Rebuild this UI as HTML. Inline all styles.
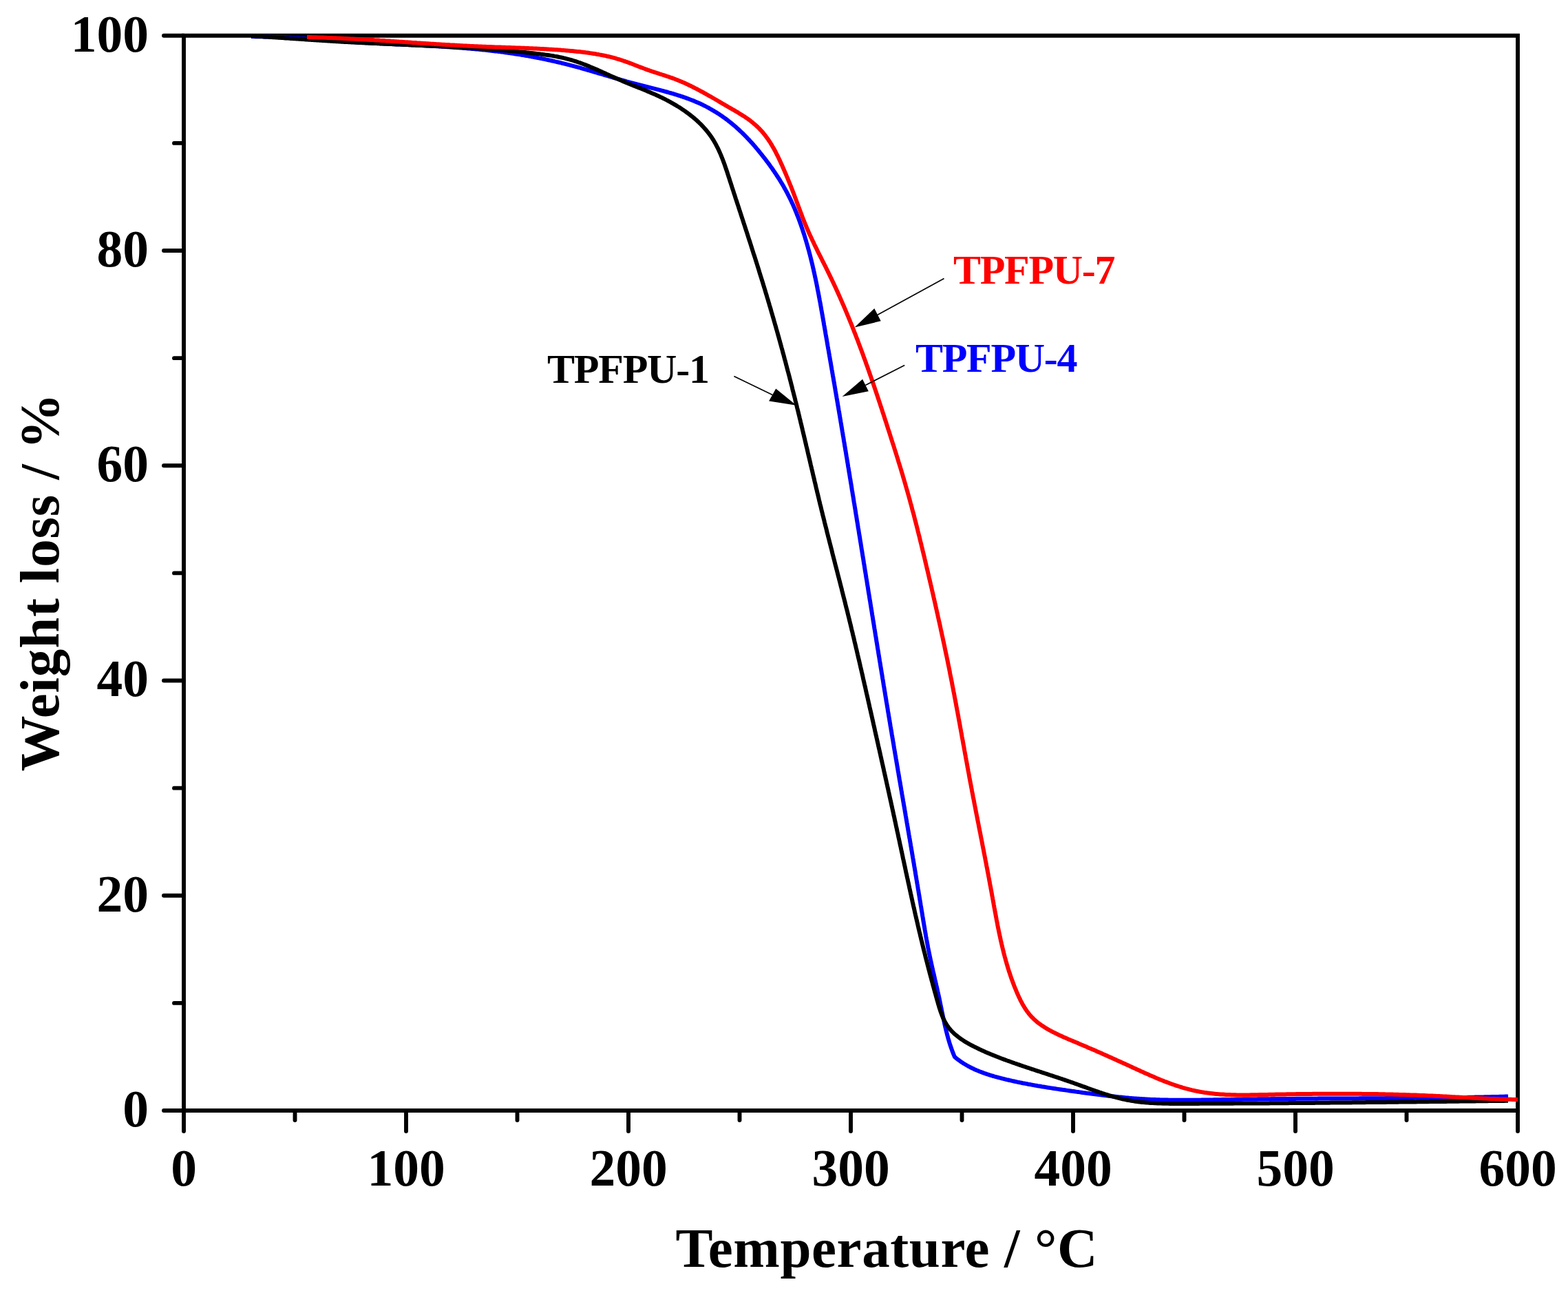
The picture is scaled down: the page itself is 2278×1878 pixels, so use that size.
<!DOCTYPE html><html><head><meta charset="utf-8"><title>TGA</title><style>html,body{margin:0;padding:0;background:#fff}svg{display:block}</style></head><body><svg width="2278" height="1878" viewBox="0 0 2278 1878">
<rect width="2278" height="1878" fill="#fff"/>
<g stroke="#000" stroke-width="5.9" fill="none" stroke-linecap="round">
<path d="M267.0,51.8 H2205.0 V1613.0 H267.0 Z" stroke-linecap="square" stroke-linejoin="miter"/>
<line x1="238.0" y1="1613.00" x2="267.0" y2="1613.00"/>
<line x1="253.0" y1="1456.88" x2="267.0" y2="1456.88"/>
<line x1="238.0" y1="1300.76" x2="267.0" y2="1300.76"/>
<line x1="253.0" y1="1144.64" x2="267.0" y2="1144.64"/>
<line x1="238.0" y1="988.52" x2="267.0" y2="988.52"/>
<line x1="253.0" y1="832.40" x2="267.0" y2="832.40"/>
<line x1="238.0" y1="676.28" x2="267.0" y2="676.28"/>
<line x1="253.0" y1="520.16" x2="267.0" y2="520.16"/>
<line x1="238.0" y1="364.04" x2="267.0" y2="364.04"/>
<line x1="253.0" y1="207.92" x2="267.0" y2="207.92"/>
<line x1="238.0" y1="51.80" x2="267.0" y2="51.80"/>
<line x1="267.00" y1="1613.0" x2="267.00" y2="1643.0"/>
<line x1="428.50" y1="1613.0" x2="428.50" y2="1627.0"/>
<line x1="590.00" y1="1613.0" x2="590.00" y2="1643.0"/>
<line x1="751.50" y1="1613.0" x2="751.50" y2="1627.0"/>
<line x1="913.00" y1="1613.0" x2="913.00" y2="1643.0"/>
<line x1="1074.50" y1="1613.0" x2="1074.50" y2="1627.0"/>
<line x1="1236.00" y1="1613.0" x2="1236.00" y2="1643.0"/>
<line x1="1397.50" y1="1613.0" x2="1397.50" y2="1627.0"/>
<line x1="1559.00" y1="1613.0" x2="1559.00" y2="1643.0"/>
<line x1="1720.50" y1="1613.0" x2="1720.50" y2="1627.0"/>
<line x1="1882.00" y1="1613.0" x2="1882.00" y2="1643.0"/>
<line x1="2043.50" y1="1613.0" x2="2043.50" y2="1627.0"/>
<line x1="2205.00" y1="1613.0" x2="2205.00" y2="1643.0"/>
</g>
<path d="M365.0,53.1 L367.0,53.1 L369.0,53.1 L371.0,53.2 L373.0,53.2 L375.0,53.2 L377.0,53.3 L379.0,53.3 L381.0,53.3 L383.0,53.4 L385.0,53.4 L387.0,53.5 L389.0,53.6 L391.0,53.6 L393.0,53.7 L395.0,53.8 L397.0,53.8 L399.0,53.9 L401.0,54.0 L402.9,54.1 L404.9,54.2 L406.9,54.2 L408.9,54.3 L410.9,54.4 L412.9,54.5 L414.9,54.6 L416.9,54.7 L418.9,54.8 L420.9,54.9 L422.9,55.1 L424.9,55.2 L426.9,55.3 L428.9,55.4 L430.9,55.5 L432.9,55.6 L434.9,55.8 L436.8,55.9 L438.8,56.0 L440.8,56.1 L442.8,56.3 L444.8,56.4 L446.8,56.5 L448.8,56.7 L450.8,56.8 L452.8,56.9 L454.8,57.1 L456.8,57.2 L458.8,57.3 L460.8,57.5 L462.7,57.6 L464.7,57.7 L466.7,57.9 L468.7,58.0 L470.7,58.2 L472.7,58.3 L474.7,58.4 L476.7,58.6 L478.7,58.7 L480.7,58.9 L482.7,59.0 L484.7,59.1 L486.7,59.3 L488.6,59.4 L490.6,59.6 L492.6,59.7 L494.6,59.8 L496.6,60.0 L498.6,60.1 L500.6,60.2 L502.6,60.4 L504.6,60.5 L506.6,60.6 L508.6,60.8 L510.6,60.9 L512.6,61.0 L514.6,61.2 L516.6,61.3 L518.5,61.4 L520.5,61.5 L522.5,61.6 L524.5,61.8 L526.5,61.9 L528.5,62.0 L530.5,62.1 L532.5,62.2 L534.5,62.3 L536.5,62.4 L538.5,62.5 L540.5,62.6 L542.5,62.7 L544.5,62.8 L546.5,62.9 L548.5,63.0 L550.5,63.1 L552.5,63.2 L554.5,63.3 L556.5,63.4 L558.4,63.5 L560.4,63.6 L562.4,63.7 L564.4,63.8 L566.4,63.9 L568.4,64.0 L570.4,64.1 L572.4,64.2 L574.4,64.3 L576.4,64.4 L578.4,64.5 L580.4,64.6 L582.4,64.6 L584.4,64.7 L586.4,64.8 L588.4,64.9 L590.4,65.0 L592.4,65.1 L594.4,65.2 L596.4,65.3 L598.4,65.4 L600.4,65.5 L602.4,65.6 L604.4,65.7 L606.3,65.8 L608.3,65.9 L610.3,66.0 L612.3,66.1 L614.3,66.2 L616.3,66.3 L618.3,66.4 L620.3,66.5 L622.3,66.6 L624.3,66.7 L626.3,66.8 L628.3,66.9 L630.3,67.0 L632.3,67.1 L634.3,67.2 L636.3,67.3 L638.3,67.5 L640.3,67.6 L642.3,67.7 L644.2,67.8 L646.2,67.9 L648.2,68.1 L650.2,68.2 L652.2,68.3 L654.2,68.5 L656.2,68.6 L658.2,68.7 L660.2,68.9 L662.2,69.0 L664.2,69.2 L666.2,69.3 L668.2,69.4 L670.1,69.6 L672.1,69.8 L674.1,69.9 L676.1,70.1 L678.1,70.2 L680.1,70.4 L682.1,70.6 L684.1,70.7 L686.1,70.9 L688.1,71.1 L690.0,71.3 L692.0,71.5 L694.0,71.6 L696.0,71.8 L698.0,72.0 L700.0,72.2 L702.0,72.4 L704.0,72.6 L705.9,72.8 L707.9,73.0 L709.9,73.3 L711.9,73.5 L713.9,73.7 L715.9,73.9 L717.9,74.2 L719.8,74.4 L721.8,74.6 L723.8,74.9 L725.8,75.1 L727.8,75.4 L729.8,75.6 L731.7,75.9 L733.7,76.2 L735.7,76.4 L737.7,76.7 L739.7,77.0 L741.6,77.3 L743.6,77.6 L745.6,77.9 L747.6,78.2 L749.6,78.5 L751.5,78.8 L753.5,79.1 L755.5,79.4 L757.5,79.7 L759.4,80.1 L761.4,80.4 L763.4,80.7 L765.3,81.1 L767.3,81.4 L769.3,81.8 L771.3,82.1 L773.2,82.5 L775.2,82.8 L777.2,83.2 L779.1,83.6 L781.1,84.0 L783.1,84.4 L785.0,84.7 L787.0,85.1 L788.9,85.5 L790.9,85.9 L792.9,86.4 L794.8,86.8 L796.8,87.2 L798.7,87.6 L800.7,88.0 L802.6,88.5 L804.6,88.9 L806.5,89.4 L808.5,89.8 L810.4,90.3 L812.4,90.7 L814.3,91.2 L816.2,91.7 L818.2,92.1 L820.1,92.6 L822.1,93.1 L824.0,93.6 L825.9,94.1 L827.9,94.6 L829.8,95.1 L831.7,95.6 L833.6,96.1 L835.6,96.6 L837.5,97.2 L839.4,97.7 L841.3,98.2 L843.3,98.7 L845.2,99.3 L847.1,99.8 L849.0,100.4 L850.9,100.9 L852.8,101.5 L854.7,102.0 L856.7,102.6 L858.6,103.1 L860.5,103.7 L862.4,104.3 L864.3,104.8 L866.2,105.4 L868.1,106.0 L870.0,106.5 L871.9,107.1 L873.9,107.7 L875.8,108.2 L877.7,108.8 L879.6,109.4 L881.5,109.9 L883.4,110.5 L885.3,111.1 L887.2,111.6 L889.1,112.2 L891.1,112.8 L893.0,113.3 L894.9,113.9 L896.8,114.4 L898.7,115.0 L900.6,115.5 L902.6,116.1 L904.5,116.6 L906.4,117.2 L908.3,117.7 L910.3,118.3 L912.2,118.8 L914.1,119.3 L916.0,119.9 L918.0,120.4 L919.9,120.9 L921.9,121.4 L923.8,121.9 L925.7,122.4 L927.7,122.9 L929.6,123.4 L931.6,123.9 L933.5,124.4 L935.5,124.9 L937.4,125.4 L939.3,125.9 L941.3,126.4 L943.2,126.9 L945.2,127.4 L947.1,127.9 L949.1,128.4 L951.0,128.9 L953.0,129.4 L954.9,129.9 L956.9,130.4 L958.8,130.9 L960.7,131.4 L962.7,131.9 L964.6,132.4 L966.5,133.0 L968.5,133.5 L970.4,134.0 L972.3,134.6 L974.3,135.1 L976.2,135.7 L978.1,136.2 L980.0,136.8 L981.9,137.4 L983.8,138.0 L985.7,138.6 L987.6,139.2 L989.5,139.8 L991.4,140.4 L993.3,141.1 L995.2,141.7 L997.0,142.4 L998.9,143.1 L1000.8,143.8 L1002.6,144.5 L1004.5,145.2 L1006.3,145.9 L1008.2,146.6 L1010.0,147.4 L1011.8,148.2 L1013.6,149.0 L1015.5,149.8 L1017.3,150.6 L1019.1,151.4 L1020.9,152.3 L1022.6,153.2 L1024.4,154.0 L1026.2,155.0 L1027.9,155.9 L1029.7,156.8 L1031.4,157.8 L1033.2,158.8 L1034.9,159.8 L1036.6,160.8 L1038.3,161.8 L1040.0,162.9 L1041.7,163.9 L1043.4,165.0 L1045.1,166.1 L1046.7,167.2 L1048.4,168.3 L1050.0,169.5 L1051.6,170.6 L1053.3,171.8 L1054.9,173.0 L1056.5,174.2 L1058.1,175.4 L1059.6,176.7 L1061.2,177.9 L1062.8,179.2 L1064.3,180.4 L1065.8,181.7 L1067.4,183.0 L1068.9,184.3 L1070.4,185.7 L1071.9,187.0 L1073.3,188.3 L1074.8,189.7 L1076.3,191.1 L1077.7,192.4 L1079.1,193.8 L1080.6,195.2 L1082.0,196.7 L1083.4,198.1 L1084.8,199.5 L1086.1,201.0 L1087.5,202.4 L1088.9,203.9 L1090.2,205.4 L1091.6,206.8 L1092.9,208.3 L1094.2,209.8 L1095.5,211.3 L1096.9,212.8 L1098.2,214.4 L1099.4,215.9 L1100.7,217.4 L1102.0,219.0 L1103.3,220.5 L1104.5,222.1 L1105.8,223.6 L1107.0,225.2 L1108.3,226.8 L1109.5,228.3 L1110.8,229.9 L1112.0,231.5 L1113.2,233.1 L1114.4,234.7 L1115.6,236.3 L1116.8,237.9 L1118.0,239.5 L1119.1,241.1 L1120.3,242.8 L1121.5,244.4 L1122.6,246.0 L1123.7,247.7 L1124.9,249.3 L1126.0,251.0 L1127.1,252.6 L1128.2,254.3 L1129.3,256.0 L1130.4,257.7 L1131.5,259.3 L1132.5,261.0 L1133.6,262.7 L1134.6,264.4 L1135.6,266.1 L1136.7,267.9 L1137.7,269.6 L1138.7,271.3 L1139.6,273.0 L1140.6,274.8 L1141.6,276.5 L1142.5,278.3 L1143.5,280.0 L1144.4,281.8 L1145.3,283.6 L1146.2,285.3 L1147.1,287.1 L1148.0,288.9 L1148.8,290.7 L1149.7,292.5 L1150.5,294.3 L1151.4,296.1 L1152.2,297.9 L1153.0,299.8 L1153.8,301.6 L1154.6,303.4 L1155.3,305.3 L1156.1,307.1 L1156.9,309.0 L1157.6,310.8 L1158.3,312.7 L1159.1,314.5 L1159.8,316.4 L1160.5,318.2 L1161.2,320.1 L1161.9,322.0 L1162.5,323.9 L1163.2,325.7 L1163.9,327.6 L1164.5,329.5 L1165.2,331.4 L1165.8,333.3 L1166.4,335.2 L1167.0,337.1 L1167.7,339.0 L1168.3,340.9 L1168.9,342.8 L1169.5,344.7 L1170.0,346.6 L1170.6,348.5 L1171.2,350.4 L1171.7,352.3 L1172.3,354.2 L1172.8,356.1 L1173.4,358.1 L1173.9,360.0 L1174.4,361.9 L1175.0,363.8 L1175.5,365.7 L1176.0,367.7 L1176.5,369.6 L1177.0,371.5 L1177.5,373.5 L1178.0,375.4 L1178.4,377.3 L1178.9,379.3 L1179.4,381.2 L1179.9,383.2 L1180.3,385.1 L1180.8,387.0 L1181.2,389.0 L1181.7,390.9 L1182.1,392.9 L1182.5,394.8 L1183.0,396.8 L1183.4,398.7 L1183.8,400.7 L1184.2,402.6 L1184.7,404.6 L1185.1,406.6 L1185.5,408.5 L1185.9,410.5 L1186.3,412.4 L1186.7,414.4 L1187.1,416.4 L1187.5,418.3 L1187.8,420.3 L1188.2,422.2 L1188.6,424.2 L1189.0,426.2 L1189.4,428.1 L1189.7,430.1 L1190.1,432.1 L1190.5,434.0 L1190.8,436.0 L1191.2,438.0 L1191.6,439.9 L1191.9,441.9 L1192.3,443.9 L1192.6,445.9 L1193.0,447.8 L1193.3,449.8 L1193.7,451.8 L1194.0,453.7 L1194.4,455.7 L1194.7,457.7 L1195.1,459.7 L1195.4,461.6 L1195.8,463.6 L1196.1,465.6 L1196.5,467.5 L1196.8,469.5 L1197.1,471.5 L1197.5,473.5 L1197.8,475.4 L1198.2,477.4 L1198.5,479.4 L1198.9,481.4 L1199.2,483.3 L1199.5,485.3 L1199.9,487.3 L1200.2,489.2 L1200.6,491.2 L1200.9,493.2 L1201.3,495.1 L1201.6,497.1 L1201.9,499.1 L1202.3,501.1 L1202.6,503.0 L1203.0,505.0 L1203.3,507.0 L1203.7,508.9 L1204.0,510.9 L1204.3,512.9 L1204.7,514.8 L1205.0,516.8 L1205.4,518.8 L1205.7,520.7 L1206.0,522.7 L1206.4,524.7 L1206.7,526.7 L1207.1,528.6 L1207.4,530.6 L1207.7,532.6 L1208.1,534.5 L1208.4,536.5 L1208.8,538.5 L1209.1,540.4 L1209.4,542.4 L1209.8,544.4 L1210.1,546.3 L1210.5,548.3 L1210.8,550.3 L1211.1,552.2 L1211.5,554.2 L1211.8,556.2 L1212.2,558.1 L1212.5,560.1 L1212.8,562.1 L1213.2,564.0 L1213.5,566.0 L1213.8,568.0 L1214.2,570.0 L1214.5,571.9 L1214.8,573.9 L1215.2,575.9 L1215.5,577.8 L1215.9,579.8 L1216.2,581.8 L1216.5,583.7 L1216.9,585.7 L1217.2,587.7 L1217.5,589.6 L1217.9,591.6 L1218.2,593.6 L1218.5,595.5 L1218.9,597.5 L1219.2,599.5 L1219.5,601.4 L1219.9,603.4 L1220.2,605.4 L1220.5,607.4 L1220.9,609.3 L1221.2,611.3 L1221.5,613.3 L1221.9,615.2 L1222.2,617.2 L1222.5,619.2 L1222.8,621.1 L1223.2,623.1 L1223.5,625.1 L1223.8,627.0 L1224.2,629.0 L1224.5,631.0 L1224.8,633.0 L1225.2,634.9 L1225.5,636.9 L1225.8,638.9 L1226.1,640.8 L1226.5,642.8 L1226.8,644.8 L1227.1,646.7 L1227.4,648.7 L1227.8,650.7 L1228.1,652.7 L1228.4,654.6 L1228.8,656.6 L1229.1,658.6 L1229.4,660.5 L1229.7,662.5 L1230.1,664.5 L1230.4,666.4 L1230.7,668.4 L1231.0,670.4 L1231.4,672.4 L1231.7,674.3 L1232.0,676.3 L1232.3,678.3 L1232.7,680.2 L1233.0,682.2 L1233.3,684.2 L1233.6,686.2 L1234.0,688.1 L1234.3,690.1 L1234.6,692.1 L1234.9,694.0 L1235.3,696.0 L1235.6,698.0 L1235.9,700.0 L1236.2,701.9 L1236.6,703.9 L1236.9,705.9 L1237.2,707.8 L1237.5,709.8 L1237.8,711.8 L1238.2,713.8 L1238.5,715.7 L1238.8,717.7 L1239.1,719.7 L1239.5,721.6 L1239.8,723.6 L1240.1,725.6 L1240.4,727.6 L1240.7,729.5 L1241.1,731.5 L1241.4,733.5 L1241.7,735.4 L1242.0,737.4 L1242.4,739.4 L1242.7,741.4 L1243.0,743.3 L1243.3,745.3 L1243.6,747.3 L1244.0,749.2 L1244.3,751.2 L1244.6,753.2 L1244.9,755.2 L1245.2,757.1 L1245.6,759.1 L1245.9,761.1 L1246.2,763.1 L1246.5,765.0 L1246.8,767.0 L1247.2,769.0 L1247.5,770.9 L1247.8,772.9 L1248.1,774.9 L1248.4,776.9 L1248.8,778.8 L1249.1,780.8 L1249.4,782.8 L1249.7,784.8 L1250.0,786.7 L1250.4,788.7 L1250.7,790.7 L1251.0,792.6 L1251.3,794.6 L1251.6,796.6 L1251.9,798.6 L1252.3,800.5 L1252.6,802.5 L1252.9,804.5 L1253.2,806.5 L1253.5,808.4 L1253.9,810.4 L1254.2,812.4 L1254.5,814.3 L1254.8,816.3 L1255.1,818.3 L1255.5,820.3 L1255.8,822.2 L1256.1,824.2 L1256.4,826.2 L1256.7,828.2 L1257.0,830.1 L1257.4,832.1 L1257.7,834.1 L1258.0,836.0 L1258.3,838.0 L1258.6,840.0 L1259.0,842.0 L1259.3,843.9 L1259.6,845.9 L1259.9,847.9 L1260.2,849.9 L1260.6,851.8 L1260.9,853.8 L1261.2,855.8 L1261.5,857.7 L1261.8,859.7 L1262.1,861.7 L1262.5,863.7 L1262.8,865.6 L1263.1,867.6 L1263.4,869.6 L1263.7,871.6 L1264.1,873.5 L1264.4,875.5 L1264.7,877.5 L1265.0,879.4 L1265.3,881.4 L1265.6,883.4 L1266.0,885.4 L1266.3,887.3 L1266.6,889.3 L1266.9,891.3 L1267.2,893.3 L1267.6,895.2 L1267.9,897.2 L1268.2,899.2 L1268.5,901.1 L1268.8,903.1 L1269.2,905.1 L1269.5,907.1 L1269.8,909.0 L1270.1,911.0 L1270.4,913.0 L1270.8,915.0 L1271.1,916.9 L1271.4,918.9 L1271.7,920.9 L1272.0,922.8 L1272.4,924.8 L1272.7,926.8 L1273.0,928.8 L1273.3,930.7 L1273.6,932.7 L1274.0,934.7 L1274.3,936.7 L1274.6,938.6 L1274.9,940.6 L1275.2,942.6 L1275.6,944.5 L1275.9,946.5 L1276.2,948.5 L1276.5,950.5 L1276.8,952.4 L1277.2,954.4 L1277.5,956.4 L1277.8,958.4 L1278.1,960.3 L1278.5,962.3 L1278.8,964.3 L1279.1,966.2 L1279.4,968.2 L1279.7,970.2 L1280.1,972.2 L1280.4,974.1 L1280.7,976.1 L1281.0,978.1 L1281.4,980.0 L1281.7,982.0 L1282.0,984.0 L1282.3,986.0 L1282.7,987.9 L1283.0,989.9 L1283.3,991.9 L1283.6,993.9 L1283.9,995.8 L1284.3,997.8 L1284.6,999.8 L1284.9,1001.7 L1285.2,1003.7 L1285.6,1005.7 L1285.9,1007.7 L1286.2,1009.6 L1286.5,1011.6 L1286.9,1013.6 L1287.2,1015.5 L1287.5,1017.5 L1287.8,1019.5 L1288.2,1021.5 L1288.5,1023.4 L1288.8,1025.4 L1289.2,1027.4 L1289.5,1029.3 L1289.8,1031.3 L1290.1,1033.3 L1290.5,1035.3 L1290.8,1037.2 L1291.1,1039.2 L1291.4,1041.2 L1291.8,1043.1 L1292.1,1045.1 L1292.4,1047.1 L1292.8,1049.1 L1293.1,1051.0 L1293.4,1053.0 L1293.7,1055.0 L1294.1,1056.9 L1294.4,1058.9 L1294.7,1060.9 L1295.1,1062.8 L1295.4,1064.8 L1295.7,1066.8 L1296.1,1068.8 L1296.4,1070.7 L1296.7,1072.7 L1297.1,1074.7 L1297.4,1076.6 L1297.7,1078.6 L1298.1,1080.6 L1298.4,1082.6 L1298.7,1084.5 L1299.0,1086.5 L1299.4,1088.5 L1299.7,1090.4 L1300.0,1092.4 L1300.4,1094.4 L1300.7,1096.3 L1301.1,1098.3 L1301.4,1100.3 L1301.7,1102.3 L1302.1,1104.2 L1302.4,1106.2 L1302.7,1108.2 L1303.1,1110.1 L1303.4,1112.1 L1303.7,1114.1 L1304.1,1116.0 L1304.4,1118.0 L1304.7,1120.0 L1305.1,1121.9 L1305.4,1123.9 L1305.7,1125.9 L1306.1,1127.9 L1306.4,1129.8 L1306.7,1131.8 L1307.1,1133.8 L1307.4,1135.7 L1307.8,1137.7 L1308.1,1139.7 L1308.4,1141.6 L1308.8,1143.6 L1309.1,1145.6 L1309.4,1147.5 L1309.8,1149.5 L1310.1,1151.5 L1310.4,1153.5 L1310.8,1155.4 L1311.1,1157.4 L1311.5,1159.4 L1311.8,1161.3 L1312.1,1163.3 L1312.5,1165.3 L1312.8,1167.2 L1313.1,1169.2 L1313.5,1171.2 L1313.8,1173.1 L1314.2,1175.1 L1314.5,1177.1 L1314.8,1179.1 L1315.2,1181.0 L1315.5,1183.0 L1315.8,1185.0 L1316.2,1186.9 L1316.5,1188.9 L1316.8,1190.9 L1317.2,1192.8 L1317.5,1194.8 L1317.9,1196.8 L1318.2,1198.7 L1318.5,1200.7 L1318.9,1202.7 L1319.2,1204.7 L1319.5,1206.6 L1319.9,1208.6 L1320.2,1210.6 L1320.5,1212.5 L1320.9,1214.5 L1321.2,1216.5 L1321.6,1218.4 L1321.9,1220.4 L1322.2,1222.4 L1322.6,1224.3 L1322.9,1226.3 L1323.2,1228.3 L1323.6,1230.3 L1323.9,1232.2 L1324.2,1234.2 L1324.6,1236.2 L1324.9,1238.1 L1325.2,1240.1 L1325.6,1242.1 L1325.9,1244.0 L1326.2,1246.0 L1326.6,1248.0 L1326.9,1250.0 L1327.2,1251.9 L1327.6,1253.9 L1327.9,1255.9 L1328.2,1257.8 L1328.6,1259.8 L1328.9,1261.8 L1329.2,1263.7 L1329.6,1265.7 L1329.9,1267.7 L1330.2,1269.7 L1330.5,1271.6 L1330.9,1273.6 L1331.2,1275.6 L1331.5,1277.5 L1331.9,1279.5 L1332.2,1281.5 L1332.5,1283.5 L1332.9,1285.4 L1333.2,1287.4 L1333.5,1289.4 L1333.8,1291.3 L1334.2,1293.3 L1334.5,1295.3 L1334.8,1297.2 L1335.1,1299.2 L1335.5,1301.2 L1335.8,1303.2 L1336.1,1305.1 L1336.4,1307.1 L1336.8,1309.1 L1337.1,1311.0 L1337.4,1313.0 L1337.7,1315.0 L1338.1,1317.0 L1338.4,1318.9 L1338.7,1320.9 L1339.0,1322.9 L1339.4,1324.9 L1339.7,1326.8 L1340.0,1328.8 L1340.3,1330.8 L1340.7,1332.7 L1341.0,1334.7 L1341.3,1336.7 L1341.6,1338.7 L1342.0,1340.6 L1342.3,1342.6 L1342.6,1344.6 L1343.0,1346.5 L1343.3,1348.5 L1343.6,1350.5 L1344.0,1352.4 L1344.3,1354.4 L1344.6,1356.4 L1345.0,1358.4 L1345.3,1360.3 L1345.7,1362.3 L1346.0,1364.3 L1346.4,1366.2 L1346.8,1368.2 L1347.1,1370.1 L1347.5,1372.1 L1347.9,1374.1 L1348.2,1376.0 L1348.6,1378.0 L1349.0,1380.0 L1349.4,1381.9 L1349.8,1383.9 L1350.2,1385.8 L1350.6,1387.8 L1351.0,1389.7 L1351.4,1391.7 L1351.8,1393.7 L1352.2,1395.6 L1352.7,1397.6 L1353.1,1399.5 L1353.5,1401.5 L1354.0,1403.4 L1354.4,1405.4 L1354.8,1407.3 L1355.3,1409.3 L1355.7,1411.2 L1356.2,1413.2 L1356.6,1415.1 L1357.1,1417.1 L1357.5,1419.0 L1358.0,1421.0 L1358.4,1422.9 L1358.9,1424.8 L1359.3,1426.8 L1359.8,1428.7 L1360.2,1430.7 L1360.7,1432.6 L1361.1,1434.6 L1361.6,1436.5 L1362.0,1438.5 L1362.4,1440.4 L1362.9,1442.4 L1363.3,1444.3 L1363.7,1446.3 L1364.2,1448.2 L1364.6,1450.2 L1365.0,1452.2 L1365.4,1454.1 L1365.8,1456.1 L1366.2,1458.0 L1366.6,1460.0 L1367.0,1461.9 L1367.4,1463.9 L1367.8,1465.9 L1368.2,1467.8 L1368.6,1469.8 L1369.0,1471.7 L1369.4,1473.7 L1369.8,1475.6 L1370.2,1477.6 L1370.6,1479.6 L1371.1,1481.5 L1371.5,1483.5 L1371.9,1485.4 L1372.3,1487.4 L1372.8,1489.3 L1373.2,1491.2 L1373.7,1493.2 L1374.1,1495.1 L1374.6,1497.1 L1375.1,1499.0 L1375.6,1500.9 L1376.1,1502.9 L1376.6,1504.8 L1377.1,1506.7 L1377.6,1508.6 L1378.2,1510.5 L1378.8,1512.4 L1379.3,1514.3 L1379.9,1516.2 L1380.5,1518.1 L1381.2,1520.0 L1381.8,1521.9 L1382.5,1523.8 L1383.2,1525.7 L1383.9,1527.6 L1384.6,1529.4 L1385.3,1531.3 L1386.1,1533.1 L1386.9,1535.0 L1388.4,1536.3 L1390.0,1537.6 L1391.6,1538.8 L1393.2,1540.0 L1394.8,1541.1 L1396.4,1542.3 L1398.1,1543.4 L1399.7,1544.5 L1401.4,1545.5 L1403.1,1546.5 L1404.8,1547.5 L1406.5,1548.5 L1408.3,1549.4 L1410.0,1550.3 L1411.8,1551.2 L1413.6,1552.0 L1415.3,1552.9 L1417.1,1553.7 L1418.9,1554.5 L1420.8,1555.2 L1422.6,1556.0 L1424.4,1556.7 L1426.3,1557.4 L1428.1,1558.1 L1430.0,1558.8 L1431.9,1559.4 L1433.7,1560.1 L1435.6,1560.7 L1437.5,1561.3 L1439.4,1561.9 L1441.3,1562.5 L1443.2,1563.0 L1445.2,1563.6 L1447.1,1564.1 L1449.0,1564.6 L1450.9,1565.2 L1452.9,1565.7 L1454.8,1566.2 L1456.8,1566.6 L1458.7,1567.1 L1460.6,1567.6 L1462.6,1568.1 L1464.5,1568.5 L1466.5,1569.0 L1468.4,1569.4 L1470.4,1569.9 L1472.3,1570.3 L1474.3,1570.7 L1476.3,1571.1 L1478.2,1571.6 L1480.2,1572.0 L1482.1,1572.4 L1484.1,1572.8 L1486.1,1573.2 L1488.0,1573.5 L1490.0,1573.9 L1492.0,1574.3 L1493.9,1574.7 L1495.9,1575.0 L1497.9,1575.4 L1499.8,1575.8 L1501.8,1576.1 L1503.8,1576.5 L1505.7,1576.8 L1507.7,1577.2 L1509.7,1577.5 L1511.7,1577.8 L1513.6,1578.2 L1515.6,1578.5 L1517.6,1578.8 L1519.6,1579.1 L1521.5,1579.5 L1523.5,1579.8 L1525.5,1580.1 L1527.5,1580.4 L1529.5,1580.7 L1531.4,1581.0 L1533.4,1581.3 L1535.4,1581.6 L1537.4,1581.9 L1539.4,1582.2 L1541.3,1582.5 L1543.3,1582.8 L1545.3,1583.1 L1547.3,1583.3 L1549.3,1583.6 L1551.2,1583.9 L1553.2,1584.2 L1555.2,1584.5 L1557.2,1584.8 L1559.2,1585.0 L1561.1,1585.3 L1563.1,1585.6 L1565.1,1585.9 L1567.1,1586.1 L1569.1,1586.4 L1571.0,1586.7 L1573.0,1587.0 L1575.0,1587.2 L1577.0,1587.5 L1578.9,1587.8 L1580.9,1588.0 L1582.9,1588.3 L1584.9,1588.5 L1586.9,1588.8 L1588.8,1589.1 L1590.8,1589.3 L1592.8,1589.6 L1594.8,1589.8 L1596.7,1590.1 L1598.7,1590.3 L1600.7,1590.6 L1602.7,1590.8 L1604.6,1591.0 L1606.6,1591.3 L1608.6,1591.5 L1610.6,1591.7 L1612.6,1592.0 L1614.5,1592.2 L1616.5,1592.4 L1618.5,1592.6 L1620.5,1592.8 L1622.4,1593.0 L1624.4,1593.2 L1626.4,1593.4 L1628.4,1593.6 L1630.4,1593.8 L1632.3,1594.0 L1634.3,1594.2 L1636.3,1594.4 L1638.3,1594.6 L1640.3,1594.8 L1642.2,1594.9 L1644.2,1595.1 L1646.2,1595.2 L1648.2,1595.4 L1650.2,1595.5 L1652.2,1595.7 L1654.1,1595.8 L1656.1,1596.0 L1658.1,1596.1 L1660.1,1596.2 L1662.1,1596.3 L1664.1,1596.5 L1666.1,1596.6 L1668.0,1596.7 L1670.0,1596.8 L1672.0,1596.9 L1674.0,1597.0 L1676.0,1597.0 L1678.0,1597.1 L1680.0,1597.2 L1682.0,1597.3 L1684.0,1597.3 L1685.9,1597.4 L1687.9,1597.4 L1689.9,1597.5 L1691.9,1597.5 L1693.9,1597.6 L1695.9,1597.6 L1697.9,1597.7 L1699.9,1597.7 L1701.9,1597.7 L1703.9,1597.7 L1705.9,1597.8 L1707.9,1597.8 L1709.9,1597.8 L1711.9,1597.8 L1713.9,1597.8 L1715.9,1597.8 L1717.9,1597.8 L1719.9,1597.8 L1721.9,1597.8 L1723.9,1597.8 L1725.9,1597.8 L1727.9,1597.8 L1729.9,1597.8 L1731.9,1597.8 L1733.9,1597.8 L1735.9,1597.7 L1737.9,1597.7 L1739.9,1597.7 L1741.9,1597.7 L1743.9,1597.7 L1745.9,1597.6 L1747.9,1597.6 L1749.9,1597.6 L1751.9,1597.5 L1753.9,1597.5 L1755.9,1597.5 L1757.9,1597.4 L1759.9,1597.4 L1761.9,1597.4 L1763.9,1597.3 L1765.9,1597.3 L1767.9,1597.3 L1769.9,1597.2 L1771.9,1597.2 L1773.9,1597.2 L1775.9,1597.1 L1777.9,1597.1 L1779.9,1597.1 L1781.9,1597.0 L1783.9,1597.0 L1785.9,1597.0 L1787.9,1596.9 L1789.9,1596.9 L1791.9,1596.9 L1793.9,1596.8 L1795.9,1596.8 L1797.9,1596.8 L1799.9,1596.7 L1801.9,1596.7 L1803.9,1596.7 L1805.9,1596.6 L1807.9,1596.6 L1809.9,1596.6 L1811.9,1596.6 L1813.9,1596.5 L1815.8,1596.5 L1817.8,1596.5 L1819.8,1596.4 L1821.8,1596.4 L1823.8,1596.4 L1825.8,1596.4 L1827.8,1596.3 L1829.8,1596.3 L1831.8,1596.3 L1833.8,1596.3 L1835.8,1596.3 L1837.8,1596.2 L1839.8,1596.2 L1841.8,1596.2 L1843.8,1596.2 L1845.8,1596.2 L1847.8,1596.1 L1849.8,1596.1 L1851.8,1596.1 L1853.8,1596.1 L1855.8,1596.1 L1857.8,1596.0 L1859.8,1596.0 L1861.8,1596.0 L1863.8,1596.0 L1865.8,1596.0 L1867.8,1596.0 L1869.8,1595.9 L1871.8,1595.9 L1873.8,1595.9 L1875.8,1595.9 L1877.8,1595.9 L1879.8,1595.9 L1881.8,1595.9 L1883.7,1595.8 L1885.7,1595.8 L1887.7,1595.8 L1889.7,1595.8 L1891.7,1595.8 L1893.7,1595.8 L1895.7,1595.8 L1897.7,1595.7 L1899.7,1595.7 L1901.7,1595.7 L1903.7,1595.7 L1905.7,1595.7 L1907.7,1595.7 L1909.7,1595.7 L1911.7,1595.7 L1913.7,1595.7 L1915.7,1595.6 L1917.7,1595.6 L1919.7,1595.6 L1921.7,1595.6 L1923.7,1595.6 L1925.6,1595.6 L1927.6,1595.6 L1929.6,1595.6 L1931.6,1595.6 L1933.6,1595.5 L1935.6,1595.5 L1937.6,1595.5 L1939.6,1595.5 L1941.6,1595.5 L1943.6,1595.5 L1945.6,1595.5 L1947.6,1595.5 L1949.6,1595.5 L1951.6,1595.5 L1953.6,1595.5 L1955.6,1595.4 L1957.6,1595.4 L1959.6,1595.4 L1961.6,1595.4 L1963.5,1595.4 L1965.5,1595.4 L1967.5,1595.4 L1969.5,1595.4 L1971.5,1595.4 L1973.5,1595.4 L1975.5,1595.3 L1977.5,1595.3 L1979.5,1595.3 L1981.5,1595.3 L1983.5,1595.3 L1985.5,1595.3 L1987.5,1595.3 L1989.5,1595.3 L1991.5,1595.3 L1993.5,1595.3 L1995.5,1595.2 L1997.4,1595.2 L1999.4,1595.2 L2001.4,1595.2 L2003.4,1595.2 L2005.4,1595.2 L2007.4,1595.2 L2009.4,1595.2 L2011.4,1595.2 L2013.4,1595.1 L2015.4,1595.1 L2017.4,1595.1 L2019.4,1595.1 L2021.4,1595.1 L2023.4,1595.1 L2025.4,1595.1 L2027.4,1595.1 L2029.4,1595.0 L2031.3,1595.0 L2033.3,1595.0 L2035.3,1595.0 L2037.3,1595.0 L2039.3,1595.0 L2041.3,1595.0 L2043.3,1594.9 L2045.3,1594.9 L2047.3,1594.9 L2049.3,1594.9 L2051.3,1594.9 L2053.3,1594.9 L2055.3,1594.8 L2057.3,1594.8 L2059.3,1594.8 L2061.3,1594.8 L2063.3,1594.8 L2065.2,1594.7 L2067.2,1594.7 L2069.2,1594.7 L2071.2,1594.7 L2073.2,1594.7 L2075.2,1594.6 L2077.2,1594.6 L2079.2,1594.6 L2081.2,1594.6 L2083.2,1594.6 L2085.2,1594.5 L2087.2,1594.5 L2089.2,1594.5 L2091.2,1594.5 L2093.2,1594.4 L2095.2,1594.4 L2097.2,1594.4 L2099.2,1594.4 L2101.2,1594.3 L2103.1,1594.3 L2105.1,1594.3 L2107.1,1594.2 L2109.1,1594.2 L2111.1,1594.2 L2113.1,1594.2 L2115.1,1594.1 L2117.1,1594.1 L2119.1,1594.1 L2121.1,1594.0 L2123.1,1594.0 L2125.1,1594.0 L2127.1,1593.9 L2129.1,1593.9 L2131.1,1593.9 L2133.1,1593.8 L2135.1,1593.8 L2137.1,1593.8 L2139.1,1593.7 L2141.1,1593.7 L2143.1,1593.6 L2145.1,1593.6 L2147.1,1593.6 L2149.1,1593.5 L2151.1,1593.5 L2153.0,1593.4 L2155.0,1593.4 L2157.0,1593.3 L2159.0,1593.3 L2161.0,1593.3 L2163.0,1593.2 L2165.0,1593.2 L2167.0,1593.1 L2169.0,1593.1 L2171.0,1593.0 L2173.0,1593.0 L2175.0,1592.9 L2177.0,1592.9 L2179.0,1592.8 L2181.0,1592.8 L2183.0,1592.7 L2185.0,1592.7 L2187.0,1592.6 L2189.0,1592.6 L2191.0,1592.5" fill="none" stroke="#0000ff" stroke-width="6.0" stroke-linejoin="round" stroke-linecap="butt"/>
<path d="M365.0,52.2 L367.0,52.3 L369.0,52.4 L371.0,52.5 L373.0,52.7 L375.0,52.8 L377.0,52.9 L379.0,53.0 L380.9,53.1 L382.9,53.3 L384.9,53.4 L386.9,53.5 L388.9,53.6 L390.9,53.8 L392.9,53.9 L394.9,54.0 L396.9,54.2 L398.9,54.3 L400.9,54.4 L402.9,54.6 L404.9,54.7 L406.9,54.8 L408.9,54.9 L410.9,55.1 L412.9,55.2 L414.8,55.4 L416.8,55.5 L418.8,55.6 L420.8,55.8 L422.8,55.9 L424.8,56.0 L426.8,56.2 L428.8,56.3 L430.8,56.4 L432.8,56.6 L434.8,56.7 L436.8,56.8 L438.8,57.0 L440.8,57.1 L442.8,57.3 L444.8,57.4 L446.8,57.5 L448.8,57.7 L450.8,57.8 L452.8,57.9 L454.8,58.1 L456.7,58.2 L458.7,58.3 L460.7,58.5 L462.7,58.6 L464.7,58.7 L466.7,58.8 L468.7,59.0 L470.7,59.1 L472.7,59.2 L474.7,59.3 L476.7,59.5 L478.7,59.6 L480.7,59.7 L482.7,59.8 L484.7,60.0 L486.7,60.1 L488.7,60.2 L490.7,60.3 L492.7,60.4 L494.7,60.5 L496.7,60.7 L498.7,60.8 L500.6,60.9 L502.6,61.0 L504.6,61.1 L506.6,61.2 L508.6,61.3 L510.6,61.4 L512.6,61.5 L514.6,61.6 L516.6,61.7 L518.6,61.8 L520.6,61.9 L522.6,62.0 L524.6,62.1 L526.6,62.2 L528.6,62.3 L530.6,62.4 L532.6,62.5 L534.6,62.6 L536.6,62.7 L538.6,62.8 L540.6,62.9 L542.6,63.0 L544.5,63.0 L546.5,63.1 L548.5,63.2 L550.5,63.3 L552.5,63.4 L554.5,63.5 L556.5,63.6 L558.5,63.7 L560.5,63.8 L562.5,63.8 L564.5,63.9 L566.5,64.0 L568.5,64.1 L570.5,64.2 L572.5,64.3 L574.5,64.4 L576.5,64.5 L578.5,64.5 L580.5,64.6 L582.5,64.7 L584.5,64.8 L586.5,64.9 L588.4,65.0 L590.4,65.1 L592.4,65.1 L594.4,65.2 L596.4,65.3 L598.4,65.4 L600.4,65.5 L602.4,65.6 L604.4,65.7 L606.4,65.8 L608.4,65.8 L610.4,65.9 L612.4,66.0 L614.4,66.1 L616.4,66.2 L618.4,66.3 L620.4,66.4 L622.4,66.5 L624.4,66.6 L626.4,66.7 L628.3,66.8 L630.3,66.8 L632.3,66.9 L634.3,67.0 L636.3,67.1 L638.3,67.2 L640.3,67.3 L642.3,67.4 L644.3,67.5 L646.3,67.6 L648.3,67.7 L650.3,67.8 L652.3,67.9 L654.3,68.0 L656.3,68.2 L658.3,68.3 L660.3,68.4 L662.3,68.5 L664.3,68.6 L666.2,68.7 L668.2,68.8 L670.2,68.9 L672.2,69.0 L674.2,69.2 L676.2,69.3 L678.2,69.4 L680.2,69.5 L682.2,69.6 L684.2,69.8 L686.2,69.9 L688.2,70.0 L690.2,70.1 L692.2,70.3 L694.2,70.4 L696.2,70.5 L698.2,70.7 L700.2,70.8 L702.2,70.9 L704.1,71.1 L706.1,71.2 L708.1,71.4 L710.1,71.5 L712.1,71.7 L714.1,71.8 L716.1,72.0 L718.1,72.1 L720.1,72.3 L722.1,72.4 L724.1,72.6 L726.1,72.7 L728.1,72.9 L730.1,73.1 L732.1,73.2 L734.1,73.4 L736.1,73.6 L738.0,73.7 L740.0,73.9 L742.0,74.1 L744.0,74.3 L746.0,74.5 L748.0,74.6 L750.0,74.8 L752.0,75.0 L754.0,75.2 L756.0,75.4 L758.0,75.6 L760.0,75.8 L762.0,76.0 L764.0,76.2 L766.0,76.4 L768.0,76.6 L770.0,76.9 L771.9,77.1 L773.9,77.3 L775.9,77.5 L777.9,77.7 L779.9,78.0 L781.9,78.2 L783.9,78.4 L785.9,78.7 L787.9,78.9 L789.9,79.2 L791.9,79.5 L793.8,79.7 L795.8,80.0 L797.8,80.3 L799.8,80.6 L801.8,80.9 L803.7,81.2 L805.7,81.6 L807.7,81.9 L809.6,82.3 L811.6,82.7 L813.5,83.1 L815.5,83.5 L817.4,83.9 L819.4,84.4 L821.3,84.8 L823.2,85.3 L825.2,85.8 L827.1,86.3 L829.0,86.8 L830.9,87.4 L832.8,88.0 L834.7,88.6 L836.6,89.2 L838.5,89.8 L840.4,90.5 L842.3,91.1 L844.1,91.8 L846.0,92.5 L847.9,93.2 L849.7,93.9 L851.6,94.6 L853.5,95.4 L855.3,96.1 L857.2,96.9 L859.0,97.7 L860.8,98.4 L862.7,99.2 L864.5,100.0 L866.4,100.8 L868.2,101.6 L870.0,102.4 L871.9,103.2 L873.7,104.1 L875.5,104.9 L877.3,105.7 L879.2,106.5 L881.0,107.4 L882.8,108.2 L884.6,109.0 L886.5,109.9 L888.3,110.7 L890.1,111.5 L891.9,112.3 L893.8,113.1 L895.6,113.9 L897.4,114.8 L899.2,115.5 L901.1,116.3 L902.9,117.1 L904.7,117.9 L906.6,118.7 L908.4,119.4 L910.2,120.2 L912.1,120.9 L913.9,121.7 L915.7,122.4 L917.6,123.2 L919.4,123.9 L921.2,124.7 L923.1,125.4 L924.9,126.1 L926.8,126.9 L928.6,127.6 L930.4,128.3 L932.3,129.1 L934.1,129.8 L935.9,130.6 L937.8,131.3 L939.6,132.1 L941.4,132.9 L943.3,133.6 L945.1,134.4 L946.9,135.2 L948.7,136.0 L950.6,136.8 L952.4,137.6 L954.2,138.4 L956.0,139.3 L957.8,140.1 L959.6,141.0 L961.5,141.8 L963.3,142.7 L965.1,143.6 L966.9,144.5 L968.7,145.5 L970.5,146.4 L972.2,147.4 L974.0,148.3 L975.8,149.3 L977.6,150.3 L979.3,151.3 L981.1,152.4 L982.8,153.4 L984.5,154.5 L986.3,155.5 L988.0,156.6 L989.7,157.7 L991.4,158.9 L993.1,160.0 L994.7,161.1 L996.4,162.3 L998.0,163.5 L999.6,164.7 L1001.3,165.9 L1002.8,167.1 L1004.4,168.4 L1006.0,169.6 L1007.5,170.9 L1009.1,172.2 L1010.6,173.5 L1012.1,174.8 L1013.6,176.2 L1015.0,177.5 L1016.4,178.9 L1017.9,180.3 L1019.3,181.7 L1020.6,183.2 L1022.0,184.6 L1023.3,186.1 L1024.6,187.5 L1025.9,189.0 L1027.2,190.6 L1028.4,192.1 L1029.6,193.6 L1030.8,195.2 L1031.9,196.8 L1033.1,198.4 L1034.2,200.0 L1035.2,201.7 L1036.3,203.3 L1037.3,205.0 L1038.3,206.7 L1039.3,208.4 L1040.2,210.1 L1041.1,211.9 L1042.0,213.6 L1042.9,215.4 L1043.8,217.2 L1044.6,219.0 L1045.4,220.8 L1046.2,222.6 L1047.0,224.4 L1047.8,226.3 L1048.5,228.1 L1049.3,230.0 L1050.0,231.8 L1050.7,233.7 L1051.4,235.6 L1052.1,237.5 L1052.8,239.4 L1053.4,241.3 L1054.1,243.2 L1054.7,245.1 L1055.4,247.0 L1056.0,248.9 L1056.7,250.8 L1057.3,252.8 L1057.9,254.7 L1058.5,256.6 L1059.2,258.5 L1059.8,260.4 L1060.4,262.4 L1061.0,264.3 L1061.7,266.2 L1062.3,268.1 L1062.9,270.0 L1063.5,272.0 L1064.1,273.9 L1064.8,275.8 L1065.4,277.7 L1066.0,279.6 L1066.6,281.5 L1067.3,283.4 L1067.9,285.3 L1068.5,287.3 L1069.1,289.2 L1069.8,291.1 L1070.4,293.0 L1071.0,294.9 L1071.6,296.8 L1072.3,298.7 L1072.9,300.6 L1073.5,302.5 L1074.1,304.4 L1074.7,306.3 L1075.4,308.2 L1076.0,310.1 L1076.6,312.0 L1077.2,313.9 L1077.8,315.8 L1078.5,317.7 L1079.1,319.6 L1079.7,321.5 L1080.3,323.4 L1080.9,325.3 L1081.6,327.2 L1082.2,329.1 L1082.8,331.0 L1083.4,332.9 L1084.0,334.8 L1084.7,336.7 L1085.3,338.6 L1085.9,340.5 L1086.5,342.4 L1087.1,344.3 L1087.7,346.2 L1088.3,348.1 L1089.0,350.0 L1089.6,351.9 L1090.2,353.8 L1090.8,355.7 L1091.4,357.6 L1092.0,359.5 L1092.6,361.4 L1093.2,363.3 L1093.8,365.2 L1094.4,367.1 L1095.0,369.0 L1095.7,370.9 L1096.3,372.8 L1096.9,374.7 L1097.5,376.6 L1098.1,378.5 L1098.7,380.4 L1099.3,382.3 L1099.9,384.2 L1100.5,386.1 L1101.1,388.0 L1101.7,389.9 L1102.3,391.8 L1102.8,393.7 L1103.4,395.6 L1104.0,397.5 L1104.6,399.4 L1105.2,401.3 L1105.8,403.2 L1106.4,405.1 L1107.0,407.0 L1107.6,408.9 L1108.2,410.8 L1108.7,412.7 L1109.3,414.6 L1109.9,416.5 L1110.5,418.4 L1111.1,420.3 L1111.6,422.2 L1112.2,424.1 L1112.8,426.1 L1113.4,428.0 L1114.0,429.9 L1114.5,431.8 L1115.1,433.7 L1115.7,435.6 L1116.2,437.5 L1116.8,439.4 L1117.4,441.3 L1117.9,443.3 L1118.5,445.2 L1119.1,447.1 L1119.6,449.0 L1120.2,450.9 L1120.7,452.8 L1121.3,454.8 L1121.9,456.7 L1122.4,458.6 L1123.0,460.5 L1123.5,462.4 L1124.1,464.3 L1124.6,466.3 L1125.2,468.2 L1125.7,470.1 L1126.3,472.0 L1126.8,473.9 L1127.4,475.9 L1127.9,477.8 L1128.5,479.7 L1129.0,481.6 L1129.6,483.6 L1130.1,485.5 L1130.6,487.4 L1131.2,489.3 L1131.7,491.3 L1132.2,493.2 L1132.8,495.1 L1133.3,497.0 L1133.8,499.0 L1134.4,500.9 L1134.9,502.8 L1135.4,504.8 L1136.0,506.7 L1136.5,508.6 L1137.0,510.5 L1137.5,512.5 L1138.1,514.4 L1138.6,516.3 L1139.1,518.3 L1139.6,520.2 L1140.1,522.1 L1140.7,524.1 L1141.2,526.0 L1141.7,527.9 L1142.2,529.9 L1142.7,531.8 L1143.2,533.7 L1143.7,535.7 L1144.2,537.6 L1144.7,539.5 L1145.3,541.5 L1145.8,543.4 L1146.3,545.3 L1146.8,547.3 L1147.3,549.2 L1147.8,551.2 L1148.3,553.1 L1148.8,555.0 L1149.3,557.0 L1149.8,558.9 L1150.3,560.8 L1150.8,562.8 L1151.2,564.7 L1151.7,566.7 L1152.2,568.6 L1152.7,570.5 L1153.2,572.5 L1153.7,574.4 L1154.2,576.3 L1154.7,578.3 L1155.2,580.2 L1155.6,582.2 L1156.1,584.1 L1156.6,586.0 L1157.1,588.0 L1157.6,589.9 L1158.0,591.9 L1158.5,593.8 L1159.0,595.7 L1159.5,597.7 L1159.9,599.6 L1160.4,601.6 L1160.9,603.5 L1161.4,605.5 L1161.8,607.4 L1162.3,609.3 L1162.8,611.3 L1163.2,613.2 L1163.7,615.2 L1164.2,617.1 L1164.6,619.1 L1165.1,621.0 L1165.6,622.9 L1166.0,624.9 L1166.5,626.8 L1166.9,628.8 L1167.4,630.7 L1167.9,632.7 L1168.3,634.6 L1168.8,636.5 L1169.3,638.5 L1169.7,640.4 L1170.2,642.4 L1170.6,644.3 L1171.1,646.3 L1171.5,648.2 L1172.0,650.1 L1172.5,652.1 L1172.9,654.0 L1173.4,656.0 L1173.8,657.9 L1174.3,659.9 L1174.7,661.8 L1175.2,663.8 L1175.7,665.7 L1176.1,667.6 L1176.6,669.6 L1177.0,671.5 L1177.5,673.5 L1177.9,675.4 L1178.4,677.4 L1178.9,679.3 L1179.3,681.2 L1179.8,683.2 L1180.2,685.1 L1180.7,687.1 L1181.1,689.0 L1181.6,691.0 L1182.1,692.9 L1182.5,694.8 L1183.0,696.8 L1183.4,698.7 L1183.9,700.7 L1184.4,702.6 L1184.8,704.6 L1185.3,706.5 L1185.7,708.4 L1186.2,710.4 L1186.7,712.3 L1187.1,714.3 L1187.6,716.2 L1188.1,718.2 L1188.5,720.1 L1189.0,722.0 L1189.5,724.0 L1189.9,725.9 L1190.4,727.9 L1190.9,729.8 L1191.3,731.7 L1191.8,733.7 L1192.3,735.6 L1192.8,737.6 L1193.2,739.5 L1193.7,741.4 L1194.2,743.4 L1194.7,745.3 L1195.1,747.3 L1195.6,749.2 L1196.1,751.1 L1196.6,753.1 L1197.1,755.0 L1197.6,757.0 L1198.0,758.9 L1198.5,760.8 L1199.0,762.8 L1199.5,764.7 L1200.0,766.6 L1200.5,768.6 L1201.0,770.5 L1201.4,772.5 L1201.9,774.4 L1202.4,776.3 L1202.9,778.3 L1203.4,780.2 L1203.9,782.1 L1204.4,784.1 L1204.9,786.0 L1205.4,788.0 L1205.9,789.9 L1206.4,791.8 L1206.9,793.8 L1207.4,795.7 L1207.9,797.6 L1208.4,799.6 L1208.8,801.5 L1209.3,803.4 L1209.8,805.4 L1210.3,807.3 L1210.8,809.3 L1211.3,811.2 L1211.8,813.1 L1212.3,815.1 L1212.8,817.0 L1213.3,818.9 L1213.8,820.9 L1214.3,822.8 L1214.8,824.7 L1215.3,826.7 L1215.8,828.6 L1216.3,830.6 L1216.8,832.5 L1217.3,834.4 L1217.8,836.4 L1218.3,838.3 L1218.8,840.2 L1219.3,842.2 L1219.8,844.1 L1220.3,846.1 L1220.8,848.0 L1221.3,849.9 L1221.8,851.9 L1222.3,853.8 L1222.8,855.7 L1223.2,857.7 L1223.7,859.6 L1224.2,861.6 L1224.7,863.5 L1225.2,865.4 L1225.7,867.4 L1226.2,869.3 L1226.7,871.2 L1227.2,873.2 L1227.7,875.1 L1228.1,877.1 L1228.6,879.0 L1229.1,880.9 L1229.6,882.9 L1230.1,884.8 L1230.6,886.8 L1231.1,888.7 L1231.5,890.6 L1232.0,892.6 L1232.5,894.5 L1233.0,896.5 L1233.5,898.4 L1233.9,900.3 L1234.4,902.3 L1234.9,904.2 L1235.4,906.2 L1235.8,908.1 L1236.3,910.1 L1236.8,912.0 L1237.2,913.9 L1237.7,915.9 L1238.2,917.8 L1238.7,919.8 L1239.1,921.7 L1239.6,923.7 L1240.1,925.6 L1240.5,927.5 L1241.0,929.5 L1241.4,931.4 L1241.9,933.4 L1242.4,935.3 L1242.8,937.3 L1243.3,939.2 L1243.7,941.2 L1244.2,943.1 L1244.7,945.1 L1245.1,947.0 L1245.6,948.9 L1246.0,950.9 L1246.5,952.8 L1246.9,954.8 L1247.4,956.7 L1247.9,958.7 L1248.3,960.6 L1248.8,962.6 L1249.2,964.5 L1249.7,966.5 L1250.1,968.4 L1250.6,970.4 L1251.0,972.3 L1251.5,974.2 L1251.9,976.2 L1252.4,978.1 L1252.8,980.1 L1253.3,982.0 L1253.7,984.0 L1254.1,985.9 L1254.6,987.9 L1255.0,989.8 L1255.5,991.8 L1255.9,993.7 L1256.4,995.7 L1256.8,997.6 L1257.3,999.6 L1257.7,1001.5 L1258.1,1003.5 L1258.6,1005.4 L1259.0,1007.4 L1259.5,1009.3 L1259.9,1011.3 L1260.4,1013.2 L1260.8,1015.2 L1261.2,1017.1 L1261.7,1019.1 L1262.1,1021.0 L1262.6,1023.0 L1263.0,1024.9 L1263.4,1026.9 L1263.9,1028.8 L1264.3,1030.8 L1264.8,1032.7 L1265.2,1034.7 L1265.6,1036.6 L1266.1,1038.5 L1266.5,1040.5 L1267.0,1042.4 L1267.4,1044.4 L1267.8,1046.3 L1268.3,1048.3 L1268.7,1050.2 L1269.1,1052.2 L1269.6,1054.1 L1270.0,1056.1 L1270.5,1058.0 L1270.9,1060.0 L1271.3,1061.9 L1271.8,1063.9 L1272.2,1065.8 L1272.6,1067.8 L1273.1,1069.7 L1273.5,1071.7 L1274.0,1073.6 L1274.4,1075.6 L1274.8,1077.5 L1275.3,1079.5 L1275.7,1081.4 L1276.1,1083.4 L1276.6,1085.3 L1277.0,1087.3 L1277.5,1089.2 L1277.9,1091.2 L1278.3,1093.1 L1278.8,1095.1 L1279.2,1097.0 L1279.6,1099.0 L1280.1,1100.9 L1280.5,1102.9 L1280.9,1104.8 L1281.4,1106.8 L1281.8,1108.7 L1282.3,1110.7 L1282.7,1112.6 L1283.1,1114.6 L1283.6,1116.5 L1284.0,1118.5 L1284.4,1120.4 L1284.9,1122.4 L1285.3,1124.3 L1285.7,1126.3 L1286.2,1128.2 L1286.6,1130.2 L1287.0,1132.1 L1287.5,1134.1 L1287.9,1136.0 L1288.3,1138.0 L1288.8,1139.9 L1289.2,1141.9 L1289.6,1143.8 L1290.1,1145.8 L1290.5,1147.7 L1290.9,1149.7 L1291.4,1151.6 L1291.8,1153.6 L1292.2,1155.5 L1292.6,1157.5 L1293.1,1159.4 L1293.5,1161.4 L1293.9,1163.3 L1294.4,1165.3 L1294.8,1167.2 L1295.2,1169.2 L1295.6,1171.1 L1296.1,1173.1 L1296.5,1175.0 L1296.9,1177.0 L1297.4,1178.9 L1297.8,1180.9 L1298.2,1182.8 L1298.6,1184.8 L1299.1,1186.7 L1299.5,1188.7 L1299.9,1190.6 L1300.3,1192.6 L1300.8,1194.6 L1301.2,1196.5 L1301.6,1198.5 L1302.0,1200.4 L1302.5,1202.4 L1302.9,1204.3 L1303.3,1206.3 L1303.7,1208.2 L1304.2,1210.2 L1304.6,1212.1 L1305.0,1214.1 L1305.4,1216.1 L1305.8,1218.0 L1306.3,1220.0 L1306.7,1221.9 L1307.1,1223.9 L1307.5,1225.8 L1307.9,1227.8 L1308.4,1229.7 L1308.8,1231.7 L1309.2,1233.7 L1309.6,1235.6 L1310.0,1237.6 L1310.5,1239.5 L1310.9,1241.5 L1311.3,1243.4 L1311.7,1245.4 L1312.1,1247.4 L1312.6,1249.3 L1313.0,1251.3 L1313.4,1253.2 L1313.8,1255.2 L1314.2,1257.1 L1314.7,1259.1 L1315.1,1261.1 L1315.5,1263.0 L1315.9,1265.0 L1316.3,1266.9 L1316.8,1268.9 L1317.2,1270.8 L1317.6,1272.8 L1318.0,1274.7 L1318.5,1276.7 L1318.9,1278.7 L1319.3,1280.6 L1319.7,1282.6 L1320.2,1284.5 L1320.6,1286.5 L1321.0,1288.4 L1321.4,1290.4 L1321.9,1292.3 L1322.3,1294.3 L1322.7,1296.2 L1323.1,1298.2 L1323.6,1300.1 L1324.0,1302.1 L1324.4,1304.0 L1324.9,1306.0 L1325.3,1307.9 L1325.7,1309.9 L1326.2,1311.8 L1326.6,1313.8 L1327.0,1315.7 L1327.5,1317.7 L1327.9,1319.6 L1328.4,1321.6 L1328.8,1323.5 L1329.2,1325.5 L1329.7,1327.4 L1330.1,1329.4 L1330.6,1331.3 L1331.0,1333.3 L1331.5,1335.2 L1331.9,1337.1 L1332.4,1339.1 L1332.8,1341.0 L1333.3,1343.0 L1333.7,1344.9 L1334.2,1346.8 L1334.6,1348.8 L1335.1,1350.7 L1335.5,1352.7 L1336.0,1354.6 L1336.5,1356.5 L1336.9,1358.5 L1337.4,1360.4 L1337.9,1362.3 L1338.3,1364.3 L1338.8,1366.2 L1339.3,1368.1 L1339.7,1370.1 L1340.2,1372.0 L1340.7,1373.9 L1341.2,1375.9 L1341.6,1377.8 L1342.1,1379.7 L1342.6,1381.7 L1343.1,1383.6 L1343.6,1385.5 L1344.1,1387.5 L1344.5,1389.4 L1345.0,1391.3 L1345.5,1393.2 L1346.0,1395.2 L1346.5,1397.1 L1347.0,1399.0 L1347.5,1401.0 L1348.0,1402.9 L1348.5,1404.8 L1349.0,1406.8 L1349.5,1408.7 L1350.0,1410.6 L1350.5,1412.5 L1351.0,1414.5 L1351.6,1416.4 L1352.1,1418.4 L1352.6,1420.3 L1353.1,1422.2 L1353.6,1424.2 L1354.2,1426.1 L1354.7,1428.0 L1355.2,1430.0 L1355.7,1431.9 L1356.3,1433.9 L1356.8,1435.8 L1357.3,1437.8 L1357.9,1439.7 L1358.4,1441.7 L1359.0,1443.6 L1359.5,1445.6 L1360.0,1447.5 L1360.6,1449.5 L1361.1,1451.4 L1361.7,1453.4 L1362.3,1455.4 L1362.8,1457.3 L1363.4,1459.3 L1364.0,1461.2 L1364.5,1463.2 L1365.2,1465.1 L1365.8,1467.0 L1366.4,1469.0 L1367.1,1470.9 L1367.8,1472.7 L1368.5,1474.6 L1369.2,1476.4 L1370.0,1478.3 L1370.8,1480.1 L1371.7,1481.8 L1372.6,1483.6 L1373.5,1485.3 L1374.5,1486.9 L1375.5,1488.6 L1376.6,1490.2 L1377.7,1491.8 L1378.9,1493.3 L1380.1,1494.8 L1381.3,1496.2 L1382.6,1497.6 L1384.0,1499.0 L1385.4,1500.4 L1386.8,1501.7 L1388.3,1503.0 L1389.8,1504.2 L1391.3,1505.4 L1392.9,1506.6 L1394.5,1507.8 L1396.1,1509.0 L1397.7,1510.1 L1399.4,1511.2 L1401.1,1512.3 L1402.8,1513.3 L1404.5,1514.3 L1406.3,1515.3 L1408.0,1516.3 L1409.8,1517.3 L1411.6,1518.3 L1413.4,1519.2 L1415.2,1520.1 L1417.0,1521.0 L1418.8,1521.9 L1420.6,1522.8 L1422.5,1523.7 L1424.3,1524.6 L1426.1,1525.4 L1427.9,1526.3 L1429.8,1527.1 L1431.6,1527.9 L1433.5,1528.7 L1435.3,1529.5 L1437.2,1530.3 L1439.0,1531.1 L1440.9,1531.8 L1442.7,1532.6 L1444.6,1533.3 L1446.5,1534.1 L1448.3,1534.8 L1450.2,1535.5 L1452.1,1536.3 L1453.9,1537.0 L1455.8,1537.7 L1457.7,1538.4 L1459.6,1539.1 L1461.4,1539.8 L1463.3,1540.5 L1465.2,1541.1 L1467.1,1541.8 L1469.0,1542.5 L1470.8,1543.2 L1472.7,1543.8 L1474.6,1544.5 L1476.5,1545.1 L1478.4,1545.8 L1480.3,1546.4 L1482.1,1547.1 L1484.0,1547.7 L1485.9,1548.4 L1487.8,1549.0 L1489.7,1549.6 L1491.6,1550.3 L1493.5,1550.9 L1495.4,1551.5 L1497.3,1552.2 L1499.1,1552.8 L1501.0,1553.4 L1502.9,1554.0 L1504.8,1554.7 L1506.7,1555.3 L1508.6,1555.9 L1510.5,1556.5 L1512.4,1557.1 L1514.3,1557.8 L1516.2,1558.4 L1518.1,1559.0 L1520.0,1559.6 L1521.9,1560.2 L1523.7,1560.9 L1525.6,1561.5 L1527.5,1562.1 L1529.4,1562.7 L1531.3,1563.4 L1533.2,1564.0 L1535.1,1564.6 L1537.0,1565.2 L1538.9,1565.9 L1540.8,1566.5 L1542.7,1567.1 L1544.6,1567.8 L1546.5,1568.4 L1548.3,1569.1 L1550.2,1569.7 L1552.1,1570.4 L1554.0,1571.0 L1555.9,1571.7 L1557.8,1572.3 L1559.7,1573.0 L1561.6,1573.7 L1563.5,1574.4 L1565.3,1575.0 L1567.2,1575.7 L1569.1,1576.4 L1571.0,1577.1 L1572.9,1577.8 L1574.8,1578.4 L1576.7,1579.1 L1578.5,1579.8 L1580.4,1580.5 L1582.3,1581.2 L1584.2,1581.9 L1586.1,1582.5 L1588.0,1583.2 L1589.9,1583.9 L1591.8,1584.5 L1593.7,1585.2 L1595.5,1585.8 L1597.4,1586.5 L1599.3,1587.1 L1601.2,1587.8 L1603.1,1588.4 L1605.0,1589.0 L1606.9,1589.6 L1608.8,1590.2 L1610.7,1590.8 L1612.7,1591.4 L1614.6,1591.9 L1616.5,1592.5 L1618.4,1593.0 L1620.3,1593.6 L1622.2,1594.1 L1624.1,1594.6 L1626.1,1595.1 L1628.0,1595.6 L1629.9,1596.0 L1631.9,1596.5 L1633.8,1596.9 L1635.7,1597.3 L1637.7,1597.7 L1639.6,1598.1 L1641.6,1598.4 L1643.5,1598.8 L1645.5,1599.1 L1647.4,1599.4 L1649.4,1599.7 L1651.3,1599.9 L1653.3,1600.2 L1655.3,1600.4 L1657.3,1600.7 L1659.2,1600.9 L1661.2,1601.1 L1663.2,1601.3 L1665.2,1601.4 L1667.2,1601.6 L1669.1,1601.8 L1671.1,1601.9 L1673.1,1602.0 L1675.1,1602.1 L1677.1,1602.2 L1679.1,1602.3 L1681.1,1602.4 L1683.1,1602.5 L1685.1,1602.6 L1687.1,1602.6 L1689.1,1602.7 L1691.1,1602.7 L1693.1,1602.8 L1695.1,1602.8 L1697.1,1602.8 L1699.1,1602.9 L1701.1,1602.9 L1703.1,1602.9 L1705.1,1602.9 L1707.1,1602.9 L1709.1,1602.9 L1711.2,1602.9 L1713.2,1602.9 L1715.2,1602.9 L1717.2,1602.9 L1719.2,1602.9 L1721.2,1602.9 L1723.2,1602.9 L1725.2,1602.9 L1727.2,1602.9 L1729.2,1602.9 L1731.2,1602.9 L1733.3,1602.9 L1735.3,1602.9 L1737.3,1602.9 L1739.3,1602.9 L1741.3,1602.9 L1743.3,1602.8 L1745.3,1602.8 L1747.3,1602.8 L1749.3,1602.8 L1751.3,1602.8 L1753.3,1602.8 L1755.3,1602.8 L1757.3,1602.8 L1759.3,1602.8 L1761.3,1602.8 L1763.3,1602.8 L1765.3,1602.8 L1767.4,1602.8 L1769.4,1602.8 L1771.4,1602.7 L1773.4,1602.7 L1775.4,1602.7 L1777.4,1602.7 L1779.4,1602.7 L1781.4,1602.7 L1783.4,1602.7 L1785.4,1602.7 L1787.4,1602.7 L1789.4,1602.7 L1791.4,1602.7 L1793.4,1602.6 L1795.4,1602.6 L1797.4,1602.6 L1799.4,1602.6 L1801.4,1602.6 L1803.4,1602.6 L1805.4,1602.6 L1807.4,1602.6 L1809.4,1602.6 L1811.4,1602.6 L1813.4,1602.5 L1815.4,1602.5 L1817.4,1602.5 L1819.4,1602.5 L1821.4,1602.5 L1823.4,1602.5 L1825.4,1602.5 L1827.4,1602.5 L1829.4,1602.4 L1831.4,1602.4 L1833.4,1602.4 L1835.4,1602.4 L1837.4,1602.4 L1839.4,1602.4 L1841.4,1602.4 L1843.4,1602.4 L1845.4,1602.3 L1847.4,1602.3 L1849.4,1602.3 L1851.4,1602.3 L1853.4,1602.3 L1855.4,1602.3 L1857.4,1602.3 L1859.4,1602.2 L1861.4,1602.2 L1863.4,1602.2 L1865.4,1602.2 L1867.4,1602.2 L1869.4,1602.2 L1871.4,1602.2 L1873.4,1602.1 L1875.4,1602.1 L1877.4,1602.1 L1879.4,1602.1 L1881.4,1602.1 L1883.4,1602.1 L1885.4,1602.1 L1887.4,1602.0 L1889.4,1602.0 L1891.4,1602.0 L1893.3,1602.0 L1895.3,1602.0 L1897.3,1602.0 L1899.3,1601.9 L1901.3,1601.9 L1903.3,1601.9 L1905.3,1601.9 L1907.3,1601.9 L1909.3,1601.9 L1911.3,1601.8 L1913.3,1601.8 L1915.3,1601.8 L1917.3,1601.8 L1919.3,1601.8 L1921.3,1601.8 L1923.3,1601.7 L1925.3,1601.7 L1927.3,1601.7 L1929.3,1601.7 L1931.3,1601.7 L1933.3,1601.6 L1935.3,1601.6 L1937.3,1601.6 L1939.3,1601.6 L1941.2,1601.6 L1943.2,1601.6 L1945.2,1601.5 L1947.2,1601.5 L1949.2,1601.5 L1951.2,1601.5 L1953.2,1601.5 L1955.2,1601.4 L1957.2,1601.4 L1959.2,1601.4 L1961.2,1601.4 L1963.2,1601.4 L1965.2,1601.3 L1967.2,1601.3 L1969.2,1601.3 L1971.2,1601.3 L1973.2,1601.3 L1975.2,1601.2 L1977.2,1601.2 L1979.2,1601.2 L1981.2,1601.2 L1983.1,1601.2 L1985.1,1601.1 L1987.1,1601.1 L1989.1,1601.1 L1991.1,1601.1 L1993.1,1601.1 L1995.1,1601.0 L1997.1,1601.0 L1999.1,1601.0 L2001.1,1601.0 L2003.1,1601.0 L2005.1,1600.9 L2007.1,1600.9 L2009.1,1600.9 L2011.1,1600.9 L2013.1,1600.9 L2015.1,1600.8 L2017.1,1600.8 L2019.1,1600.8 L2021.1,1600.8 L2023.1,1600.7 L2025.1,1600.7 L2027.0,1600.7 L2029.0,1600.7 L2031.0,1600.7 L2033.0,1600.6 L2035.0,1600.6 L2037.0,1600.6 L2039.0,1600.6 L2041.0,1600.5 L2043.0,1600.5 L2045.0,1600.5 L2047.0,1600.5 L2049.0,1600.5 L2051.0,1600.4 L2053.0,1600.4 L2055.0,1600.4 L2057.0,1600.4 L2059.0,1600.3 L2061.0,1600.3 L2063.0,1600.3 L2065.0,1600.3 L2067.0,1600.3 L2069.0,1600.2 L2071.0,1600.2 L2073.0,1600.2 L2075.0,1600.2 L2077.0,1600.1 L2079.0,1600.1 L2081.0,1600.1 L2082.9,1600.1 L2084.9,1600.1 L2086.9,1600.0 L2088.9,1600.0 L2090.9,1600.0 L2092.9,1600.0 L2094.9,1599.9 L2096.9,1599.9 L2098.9,1599.9 L2100.9,1599.9 L2102.9,1599.8 L2104.9,1599.8 L2106.9,1599.8 L2108.9,1599.8 L2110.9,1599.7 L2112.9,1599.7 L2114.9,1599.7 L2116.9,1599.7 L2118.9,1599.7 L2120.9,1599.6 L2122.9,1599.6 L2124.9,1599.6 L2126.9,1599.6 L2128.9,1599.5 L2130.9,1599.5 L2132.9,1599.5 L2134.9,1599.5 L2136.9,1599.4 L2138.9,1599.4 L2140.9,1599.4 L2142.9,1599.4 L2144.9,1599.3 L2146.9,1599.3 L2148.9,1599.3 L2150.9,1599.3 L2152.9,1599.3 L2154.9,1599.2 L2156.9,1599.2 L2158.9,1599.2 L2160.9,1599.2 L2162.9,1599.1 L2164.9,1599.1 L2167.0,1599.1 L2169.0,1599.1 L2171.0,1599.0 L2173.0,1599.0 L2175.0,1599.0 L2177.0,1599.0 L2179.0,1598.9 L2181.0,1598.9 L2183.0,1598.9 L2185.0,1598.9 L2187.0,1598.8 L2189.0,1598.8 L2191.0,1598.8" fill="none" stroke="#000000" stroke-width="6.0" stroke-linejoin="round" stroke-linecap="butt"/>
<path d="M446.0,54.0 L448.0,54.0 L450.0,54.1 L452.0,54.1 L454.0,54.2 L456.0,54.2 L458.0,54.3 L460.0,54.3 L462.0,54.4 L464.0,54.5 L466.0,54.5 L468.0,54.6 L470.0,54.6 L472.0,54.7 L474.0,54.8 L476.0,54.9 L478.0,54.9 L479.9,55.0 L481.9,55.1 L483.9,55.2 L485.9,55.2 L487.9,55.3 L489.9,55.4 L491.9,55.5 L493.9,55.6 L495.9,55.7 L497.9,55.8 L499.9,55.9 L501.9,56.0 L503.9,56.1 L505.9,56.2 L507.9,56.3 L509.9,56.4 L511.9,56.5 L513.9,56.6 L515.9,56.7 L517.9,56.8 L519.9,56.9 L521.9,57.0 L523.9,57.1 L525.9,57.2 L527.9,57.3 L529.9,57.4 L531.8,57.6 L533.8,57.7 L535.8,57.8 L537.8,57.9 L539.8,58.0 L541.8,58.1 L543.8,58.3 L545.8,58.4 L547.8,58.5 L549.8,58.6 L551.8,58.8 L553.8,58.9 L555.8,59.0 L557.8,59.1 L559.8,59.3 L561.8,59.4 L563.8,59.5 L565.8,59.6 L567.8,59.8 L569.8,59.9 L571.8,60.0 L573.7,60.2 L575.7,60.3 L577.7,60.4 L579.7,60.6 L581.7,60.7 L583.7,60.8 L585.7,60.9 L587.7,61.1 L589.7,61.2 L591.7,61.3 L593.7,61.5 L595.7,61.6 L597.7,61.7 L599.7,61.9 L601.7,62.0 L603.7,62.1 L605.7,62.3 L607.7,62.4 L609.7,62.5 L611.7,62.7 L613.6,62.8 L615.6,62.9 L617.6,63.0 L619.6,63.2 L621.6,63.3 L623.6,63.4 L625.6,63.6 L627.6,63.7 L629.6,63.8 L631.6,63.9 L633.6,64.1 L635.6,64.2 L637.6,64.3 L639.6,64.4 L641.6,64.6 L643.6,64.7 L645.6,64.8 L647.6,64.9 L649.6,65.0 L651.6,65.1 L653.6,65.3 L655.5,65.4 L657.5,65.5 L659.5,65.6 L661.5,65.7 L663.5,65.8 L665.5,65.9 L667.5,66.0 L669.5,66.2 L671.5,66.3 L673.5,66.4 L675.5,66.5 L677.5,66.6 L679.5,66.7 L681.5,66.8 L683.5,66.9 L685.5,67.0 L687.5,67.1 L689.5,67.2 L691.5,67.2 L693.5,67.3 L695.5,67.4 L697.5,67.5 L699.5,67.6 L701.4,67.7 L703.4,67.8 L705.4,67.8 L707.4,67.9 L709.4,68.0 L711.4,68.1 L713.4,68.1 L715.4,68.2 L717.4,68.3 L719.4,68.4 L721.4,68.4 L723.4,68.5 L725.4,68.6 L727.4,68.6 L729.4,68.7 L731.4,68.8 L733.4,68.8 L735.4,68.9 L737.4,69.0 L739.4,69.0 L741.4,69.1 L743.4,69.2 L745.4,69.3 L747.4,69.3 L749.4,69.4 L751.4,69.5 L753.4,69.5 L755.3,69.6 L757.3,69.7 L759.3,69.8 L761.3,69.8 L763.3,69.9 L765.3,70.0 L767.3,70.1 L769.3,70.2 L771.3,70.3 L773.3,70.3 L775.3,70.4 L777.3,70.5 L779.3,70.6 L781.3,70.7 L783.3,70.8 L785.3,70.9 L787.3,71.0 L789.3,71.1 L791.3,71.2 L793.3,71.3 L795.3,71.4 L797.3,71.6 L799.3,71.7 L801.3,71.8 L803.3,71.9 L805.3,72.1 L807.3,72.2 L809.3,72.3 L811.3,72.5 L813.3,72.6 L815.3,72.8 L817.3,72.9 L819.3,73.1 L821.2,73.2 L823.2,73.4 L825.2,73.6 L827.2,73.7 L829.2,73.9 L831.2,74.1 L833.2,74.3 L835.2,74.5 L837.2,74.7 L839.2,74.9 L841.2,75.1 L843.2,75.3 L845.2,75.6 L847.2,75.8 L849.2,76.0 L851.2,76.3 L853.2,76.5 L855.1,76.8 L857.1,77.1 L859.1,77.4 L861.1,77.7 L863.1,78.0 L865.0,78.3 L867.0,78.7 L869.0,79.0 L870.9,79.4 L872.9,79.7 L874.8,80.1 L876.8,80.5 L878.8,80.9 L880.7,81.3 L882.6,81.8 L884.6,82.2 L886.5,82.7 L888.4,83.2 L890.4,83.7 L892.3,84.2 L894.2,84.7 L896.1,85.3 L898.0,85.8 L899.9,86.4 L901.8,87.0 L903.7,87.6 L905.6,88.3 L907.5,88.9 L909.4,89.6 L911.2,90.2 L913.1,90.9 L915.0,91.6 L916.8,92.3 L918.7,93.0 L920.6,93.8 L922.4,94.5 L924.3,95.2 L926.1,95.9 L928.0,96.7 L929.9,97.4 L931.7,98.1 L933.6,98.8 L935.5,99.5 L937.4,100.2 L939.2,100.9 L941.1,101.6 L943.0,102.2 L944.9,102.9 L946.8,103.5 L948.7,104.2 L950.6,104.8 L952.5,105.4 L954.4,106.0 L956.3,106.6 L958.2,107.3 L960.1,107.9 L962.1,108.5 L964.0,109.1 L965.9,109.7 L967.8,110.4 L969.7,111.0 L971.6,111.6 L973.4,112.3 L975.3,112.9 L977.2,113.6 L979.1,114.3 L981.0,115.0 L982.8,115.7 L984.7,116.4 L986.5,117.2 L988.4,117.9 L990.2,118.7 L992.0,119.5 L993.8,120.3 L995.7,121.1 L997.5,122.0 L999.3,122.8 L1001.1,123.7 L1002.9,124.5 L1004.7,125.4 L1006.4,126.3 L1008.2,127.2 L1010.0,128.1 L1011.8,129.0 L1013.5,129.9 L1015.3,130.9 L1017.1,131.8 L1018.8,132.8 L1020.6,133.7 L1022.3,134.7 L1024.1,135.6 L1025.8,136.6 L1027.5,137.6 L1029.3,138.6 L1031.0,139.6 L1032.8,140.5 L1034.5,141.5 L1036.2,142.5 L1037.9,143.5 L1039.7,144.5 L1041.4,145.5 L1043.1,146.5 L1044.9,147.6 L1046.6,148.6 L1048.3,149.6 L1050.0,150.6 L1051.8,151.6 L1053.5,152.6 L1055.2,153.6 L1056.9,154.6 L1058.7,155.7 L1060.4,156.7 L1062.1,157.7 L1063.8,158.7 L1065.6,159.7 L1067.3,160.7 L1069.0,161.7 L1070.8,162.7 L1072.5,163.7 L1074.2,164.8 L1075.9,165.8 L1077.6,166.9 L1079.3,167.9 L1081.0,169.0 L1082.7,170.1 L1084.3,171.2 L1086.0,172.4 L1087.6,173.5 L1089.2,174.7 L1090.8,175.9 L1092.3,177.2 L1093.9,178.4 L1095.4,179.7 L1096.9,181.0 L1098.4,182.3 L1099.9,183.7 L1101.3,185.0 L1102.7,186.4 L1104.1,187.9 L1105.4,189.3 L1106.8,190.8 L1108.1,192.3 L1109.4,193.8 L1110.6,195.3 L1111.8,196.9 L1113.0,198.5 L1114.2,200.1 L1115.4,201.7 L1116.5,203.3 L1117.6,205.0 L1118.7,206.6 L1119.7,208.3 L1120.8,210.0 L1121.8,211.8 L1122.8,213.5 L1123.8,215.2 L1124.8,217.0 L1125.8,218.8 L1126.7,220.5 L1127.6,222.3 L1128.5,224.1 L1129.4,225.9 L1130.3,227.7 L1131.2,229.5 L1132.1,231.4 L1132.9,233.2 L1133.8,235.0 L1134.6,236.9 L1135.4,238.7 L1136.3,240.5 L1137.1,242.4 L1137.9,244.2 L1138.7,246.1 L1139.5,247.9 L1140.3,249.7 L1141.1,251.6 L1141.9,253.4 L1142.6,255.2 L1143.4,257.1 L1144.2,258.9 L1144.9,260.7 L1145.7,262.6 L1146.4,264.4 L1147.2,266.3 L1147.9,268.1 L1148.7,269.9 L1149.4,271.8 L1150.1,273.6 L1150.9,275.5 L1151.6,277.3 L1152.3,279.2 L1153.0,281.0 L1153.7,282.9 L1154.4,284.8 L1155.1,286.6 L1155.8,288.5 L1156.5,290.3 L1157.2,292.2 L1157.9,294.1 L1158.6,296.0 L1159.3,297.8 L1160.0,299.7 L1160.7,301.6 L1161.4,303.5 L1162.1,305.3 L1162.8,307.2 L1163.5,309.1 L1164.2,310.9 L1164.9,312.8 L1165.6,314.7 L1166.3,316.5 L1167.0,318.4 L1167.8,320.3 L1168.5,322.1 L1169.3,324.0 L1170.0,325.8 L1170.8,327.7 L1171.5,329.5 L1172.3,331.4 L1173.1,333.2 L1173.9,335.0 L1174.7,336.9 L1175.5,338.7 L1176.3,340.5 L1177.2,342.3 L1178.0,344.2 L1178.9,346.0 L1179.7,347.8 L1180.6,349.6 L1181.4,351.4 L1182.3,353.2 L1183.1,355.0 L1184.0,356.8 L1184.9,358.6 L1185.8,360.4 L1186.7,362.2 L1187.5,364.0 L1188.4,365.8 L1189.3,367.6 L1190.2,369.4 L1191.1,371.1 L1192.0,372.9 L1192.9,374.7 L1193.8,376.5 L1194.7,378.3 L1195.6,380.1 L1196.5,381.9 L1197.4,383.7 L1198.3,385.4 L1199.2,387.2 L1200.1,389.0 L1201.0,390.8 L1201.9,392.6 L1202.7,394.4 L1203.6,396.2 L1204.5,398.0 L1205.4,399.8 L1206.2,401.6 L1207.1,403.4 L1208.0,405.2 L1208.8,407.0 L1209.7,408.8 L1210.5,410.6 L1211.4,412.4 L1212.2,414.2 L1213.1,416.0 L1213.9,417.8 L1214.8,419.7 L1215.6,421.5 L1216.4,423.3 L1217.2,425.1 L1218.1,426.9 L1218.9,428.8 L1219.7,430.6 L1220.5,432.4 L1221.3,434.2 L1222.1,436.1 L1222.9,437.9 L1223.7,439.7 L1224.5,441.6 L1225.3,443.4 L1226.1,445.2 L1226.9,447.1 L1227.7,448.9 L1228.4,450.7 L1229.2,452.6 L1230.0,454.4 L1230.8,456.3 L1231.5,458.1 L1232.3,459.9 L1233.0,461.8 L1233.8,463.6 L1234.6,465.5 L1235.3,467.3 L1236.1,469.2 L1236.8,471.0 L1237.6,472.9 L1238.3,474.7 L1239.0,476.6 L1239.8,478.5 L1240.5,480.3 L1241.2,482.2 L1242.0,484.0 L1242.7,485.9 L1243.4,487.8 L1244.1,489.6 L1244.8,491.5 L1245.6,493.3 L1246.3,495.2 L1247.0,497.1 L1247.7,499.0 L1248.4,500.8 L1249.1,502.7 L1249.8,504.6 L1250.5,506.4 L1251.2,508.3 L1251.9,510.2 L1252.6,512.1 L1253.3,513.9 L1254.0,515.8 L1254.6,517.7 L1255.3,519.6 L1256.0,521.4 L1256.7,523.3 L1257.4,525.2 L1258.0,527.1 L1258.7,529.0 L1259.4,530.8 L1260.1,532.7 L1260.7,534.6 L1261.4,536.5 L1262.1,538.4 L1262.7,540.3 L1263.4,542.1 L1264.0,544.0 L1264.7,545.9 L1265.4,547.8 L1266.0,549.7 L1266.7,551.6 L1267.3,553.5 L1268.0,555.4 L1268.6,557.3 L1269.3,559.2 L1269.9,561.0 L1270.5,562.9 L1271.2,564.8 L1271.8,566.7 L1272.5,568.6 L1273.1,570.5 L1273.7,572.4 L1274.4,574.3 L1275.0,576.2 L1275.6,578.1 L1276.3,580.0 L1276.9,581.9 L1277.5,583.8 L1278.2,585.7 L1278.8,587.6 L1279.4,589.5 L1280.0,591.4 L1280.7,593.3 L1281.3,595.2 L1281.9,597.1 L1282.5,599.0 L1283.2,600.9 L1283.8,602.8 L1284.4,604.7 L1285.0,606.6 L1285.6,608.5 L1286.2,610.4 L1286.9,612.3 L1287.5,614.2 L1288.1,616.1 L1288.7,618.0 L1289.3,619.9 L1289.9,621.8 L1290.5,623.7 L1291.2,625.6 L1291.8,627.5 L1292.4,629.4 L1293.0,631.3 L1293.6,633.2 L1294.2,635.1 L1294.8,637.0 L1295.4,638.9 L1296.0,640.8 L1296.6,642.7 L1297.2,644.6 L1297.9,646.5 L1298.5,648.5 L1299.1,650.4 L1299.7,652.3 L1300.3,654.2 L1300.9,656.1 L1301.5,658.0 L1302.1,659.9 L1302.7,661.8 L1303.3,663.7 L1303.9,665.6 L1304.5,667.5 L1305.0,669.4 L1305.6,671.3 L1306.2,673.2 L1306.8,675.1 L1307.4,677.0 L1308.0,679.0 L1308.6,680.9 L1309.2,682.8 L1309.7,684.7 L1310.3,686.6 L1310.9,688.5 L1311.5,690.4 L1312.0,692.3 L1312.6,694.3 L1313.2,696.2 L1313.7,698.1 L1314.3,700.0 L1314.8,701.9 L1315.4,703.8 L1315.9,705.8 L1316.5,707.7 L1317.0,709.6 L1317.6,711.5 L1318.1,713.4 L1318.7,715.4 L1319.2,717.3 L1319.8,719.2 L1320.3,721.1 L1320.8,723.1 L1321.4,725.0 L1321.9,726.9 L1322.4,728.8 L1322.9,730.8 L1323.5,732.7 L1324.0,734.6 L1324.5,736.6 L1325.0,738.5 L1325.5,740.4 L1326.0,742.4 L1326.6,744.3 L1327.1,746.2 L1327.6,748.1 L1328.1,750.1 L1328.6,752.0 L1329.1,754.0 L1329.6,755.9 L1330.1,757.8 L1330.6,759.8 L1331.1,761.7 L1331.6,763.6 L1332.1,765.6 L1332.6,767.5 L1333.1,769.4 L1333.5,771.4 L1334.0,773.3 L1334.5,775.3 L1335.0,777.2 L1335.5,779.1 L1336.0,781.1 L1336.4,783.0 L1336.9,785.0 L1337.4,786.9 L1337.9,788.8 L1338.4,790.8 L1338.8,792.7 L1339.3,794.7 L1339.8,796.6 L1340.2,798.6 L1340.7,800.5 L1341.2,802.4 L1341.7,804.4 L1342.1,806.3 L1342.6,808.3 L1343.1,810.2 L1343.5,812.2 L1344.0,814.1 L1344.4,816.1 L1344.9,818.0 L1345.4,820.0 L1345.8,821.9 L1346.3,823.8 L1346.7,825.8 L1347.2,827.7 L1347.7,829.7 L1348.1,831.6 L1348.6,833.6 L1349.0,835.5 L1349.5,837.5 L1349.9,839.4 L1350.4,841.4 L1350.9,843.3 L1351.3,845.3 L1351.8,847.2 L1352.2,849.2 L1352.7,851.1 L1353.1,853.0 L1353.6,855.0 L1354.0,856.9 L1354.5,858.9 L1354.9,860.8 L1355.4,862.8 L1355.8,864.7 L1356.2,866.7 L1356.7,868.6 L1357.1,870.6 L1357.6,872.5 L1358.0,874.5 L1358.5,876.4 L1358.9,878.4 L1359.3,880.3 L1359.8,882.3 L1360.2,884.2 L1360.7,886.2 L1361.1,888.1 L1361.5,890.1 L1362.0,892.0 L1362.4,894.0 L1362.8,895.9 L1363.3,897.9 L1363.7,899.8 L1364.1,901.8 L1364.6,903.7 L1365.0,905.7 L1365.4,907.6 L1365.9,909.6 L1366.3,911.5 L1366.7,913.5 L1367.1,915.4 L1367.6,917.4 L1368.0,919.3 L1368.4,921.3 L1368.8,923.2 L1369.3,925.2 L1369.7,927.2 L1370.1,929.1 L1370.5,931.1 L1370.9,933.0 L1371.4,935.0 L1371.8,936.9 L1372.2,938.9 L1372.6,940.8 L1373.0,942.8 L1373.4,944.7 L1373.8,946.7 L1374.2,948.7 L1374.6,950.6 L1375.1,952.6 L1375.5,954.5 L1375.9,956.5 L1376.3,958.4 L1376.7,960.4 L1377.1,962.4 L1377.5,964.3 L1377.9,966.3 L1378.3,968.2 L1378.7,970.2 L1379.1,972.1 L1379.5,974.1 L1379.9,976.1 L1380.2,978.0 L1380.6,980.0 L1381.0,981.9 L1381.4,983.9 L1381.8,985.9 L1382.2,987.8 L1382.6,989.8 L1383.0,991.7 L1383.3,993.7 L1383.7,995.7 L1384.1,997.6 L1384.5,999.6 L1384.9,1001.6 L1385.2,1003.5 L1385.6,1005.5 L1386.0,1007.4 L1386.4,1009.4 L1386.7,1011.4 L1387.1,1013.3 L1387.5,1015.3 L1387.9,1017.3 L1388.2,1019.2 L1388.6,1021.2 L1389.0,1023.2 L1389.3,1025.1 L1389.7,1027.1 L1390.1,1029.0 L1390.4,1031.0 L1390.8,1033.0 L1391.2,1034.9 L1391.5,1036.9 L1391.9,1038.9 L1392.3,1040.8 L1392.6,1042.8 L1393.0,1044.8 L1393.3,1046.7 L1393.7,1048.7 L1394.1,1050.7 L1394.4,1052.6 L1394.8,1054.6 L1395.1,1056.6 L1395.5,1058.5 L1395.9,1060.5 L1396.2,1062.5 L1396.6,1064.4 L1396.9,1066.4 L1397.3,1068.4 L1397.6,1070.3 L1398.0,1072.3 L1398.4,1074.3 L1398.7,1076.2 L1399.1,1078.2 L1399.4,1080.2 L1399.8,1082.1 L1400.2,1084.1 L1400.5,1086.1 L1400.9,1088.0 L1401.2,1090.0 L1401.6,1092.0 L1401.9,1093.9 L1402.3,1095.9 L1402.7,1097.9 L1403.0,1099.8 L1403.4,1101.8 L1403.7,1103.8 L1404.1,1105.7 L1404.5,1107.7 L1404.8,1109.7 L1405.2,1111.6 L1405.5,1113.6 L1405.9,1115.6 L1406.3,1117.5 L1406.6,1119.5 L1407.0,1121.5 L1407.4,1123.4 L1407.7,1125.4 L1408.1,1127.4 L1408.4,1129.3 L1408.8,1131.3 L1409.2,1133.3 L1409.5,1135.2 L1409.9,1137.2 L1410.3,1139.1 L1410.7,1141.1 L1411.0,1143.1 L1411.4,1145.0 L1411.8,1147.0 L1412.1,1149.0 L1412.5,1150.9 L1412.9,1152.9 L1413.3,1154.8 L1413.6,1156.8 L1414.0,1158.8 L1414.4,1160.7 L1414.8,1162.7 L1415.2,1164.7 L1415.5,1166.6 L1415.9,1168.6 L1416.3,1170.5 L1416.7,1172.5 L1417.1,1174.5 L1417.4,1176.4 L1417.8,1178.4 L1418.2,1180.3 L1418.6,1182.3 L1419.0,1184.3 L1419.4,1186.2 L1419.7,1188.2 L1420.1,1190.1 L1420.5,1192.1 L1420.9,1194.1 L1421.3,1196.0 L1421.7,1198.0 L1422.0,1199.9 L1422.4,1201.9 L1422.8,1203.9 L1423.2,1205.8 L1423.6,1207.8 L1424.0,1209.7 L1424.4,1211.7 L1424.7,1213.7 L1425.1,1215.6 L1425.5,1217.6 L1425.9,1219.5 L1426.3,1221.5 L1426.7,1223.5 L1427.0,1225.4 L1427.4,1227.4 L1427.8,1229.3 L1428.2,1231.3 L1428.6,1233.3 L1429.0,1235.2 L1429.3,1237.2 L1429.7,1239.2 L1430.1,1241.1 L1430.5,1243.1 L1430.9,1245.0 L1431.3,1247.0 L1431.6,1249.0 L1432.0,1250.9 L1432.4,1252.9 L1432.8,1254.9 L1433.1,1256.8 L1433.5,1258.8 L1433.9,1260.7 L1434.3,1262.7 L1434.6,1264.7 L1435.0,1266.6 L1435.4,1268.6 L1435.8,1270.6 L1436.1,1272.5 L1436.5,1274.5 L1436.9,1276.5 L1437.2,1278.4 L1437.6,1280.4 L1438.0,1282.4 L1438.3,1284.3 L1438.7,1286.3 L1439.1,1288.2 L1439.4,1290.2 L1439.8,1292.2 L1440.2,1294.2 L1440.5,1296.1 L1440.9,1298.1 L1441.2,1300.1 L1441.6,1302.0 L1442.0,1304.0 L1442.3,1306.0 L1442.7,1307.9 L1443.0,1309.9 L1443.4,1311.9 L1443.7,1313.8 L1444.1,1315.8 L1444.4,1317.8 L1444.8,1319.7 L1445.2,1321.7 L1445.5,1323.7 L1445.9,1325.7 L1446.3,1327.6 L1446.6,1329.6 L1447.0,1331.6 L1447.4,1333.5 L1447.7,1335.5 L1448.1,1337.4 L1448.5,1339.4 L1448.9,1341.4 L1449.2,1343.3 L1449.6,1345.3 L1450.0,1347.3 L1450.4,1349.2 L1450.8,1351.2 L1451.2,1353.1 L1451.6,1355.1 L1452.0,1357.0 L1452.4,1359.0 L1452.9,1360.9 L1453.3,1362.9 L1453.7,1364.8 L1454.1,1366.8 L1454.6,1368.7 L1455.0,1370.7 L1455.5,1372.6 L1455.9,1374.6 L1456.4,1376.5 L1456.9,1378.5 L1457.4,1380.4 L1457.8,1382.3 L1458.3,1384.3 L1458.8,1386.2 L1459.3,1388.1 L1459.8,1390.0 L1460.4,1392.0 L1460.9,1393.9 L1461.4,1395.8 L1462.0,1397.7 L1462.5,1399.7 L1463.1,1401.6 L1463.7,1403.5 L1464.2,1405.4 L1464.8,1407.3 L1465.4,1409.2 L1466.0,1411.1 L1466.7,1413.0 L1467.3,1414.9 L1467.9,1416.8 L1468.6,1418.7 L1469.2,1420.6 L1469.9,1422.5 L1470.6,1424.3 L1471.3,1426.2 L1472.0,1428.1 L1472.7,1430.0 L1473.4,1431.8 L1474.1,1433.7 L1474.9,1435.6 L1475.7,1437.4 L1476.4,1439.3 L1477.2,1441.1 L1478.0,1443.0 L1478.8,1444.8 L1479.7,1446.7 L1480.5,1448.5 L1481.4,1450.3 L1482.2,1452.1 L1483.1,1453.9 L1484.1,1455.7 L1485.0,1457.5 L1486.0,1459.2 L1487.0,1460.9 L1488.0,1462.6 L1489.1,1464.3 L1490.2,1466.0 L1491.3,1467.6 L1492.4,1469.2 L1493.6,1470.8 L1494.8,1472.4 L1496.0,1473.9 L1497.3,1475.4 L1498.6,1476.8 L1500.0,1478.2 L1501.4,1479.6 L1502.8,1481.0 L1504.3,1482.3 L1505.8,1483.6 L1507.3,1484.8 L1508.9,1486.1 L1510.5,1487.2 L1512.1,1488.4 L1513.8,1489.5 L1515.4,1490.7 L1517.1,1491.7 L1518.8,1492.8 L1520.5,1493.8 L1522.3,1494.9 L1524.0,1495.8 L1525.8,1496.8 L1527.6,1497.8 L1529.3,1498.7 L1531.1,1499.6 L1532.9,1500.5 L1534.7,1501.4 L1536.5,1502.3 L1538.3,1503.2 L1540.2,1504.0 L1542.0,1504.8 L1543.8,1505.7 L1545.6,1506.5 L1547.5,1507.3 L1549.3,1508.1 L1551.2,1508.9 L1553.0,1509.7 L1554.9,1510.5 L1556.7,1511.2 L1558.5,1512.0 L1560.4,1512.8 L1562.2,1513.6 L1564.1,1514.3 L1565.9,1515.1 L1567.8,1515.9 L1569.6,1516.7 L1571.4,1517.5 L1573.3,1518.2 L1575.1,1519.0 L1577.0,1519.8 L1578.8,1520.6 L1580.6,1521.4 L1582.4,1522.2 L1584.3,1522.9 L1586.1,1523.7 L1587.9,1524.5 L1589.8,1525.3 L1591.6,1526.1 L1593.4,1526.9 L1595.2,1527.7 L1597.0,1528.5 L1598.9,1529.3 L1600.7,1530.1 L1602.5,1530.9 L1604.3,1531.7 L1606.1,1532.5 L1608.0,1533.3 L1609.8,1534.2 L1611.6,1535.0 L1613.4,1535.8 L1615.2,1536.6 L1617.0,1537.4 L1618.9,1538.2 L1620.7,1539.0 L1622.5,1539.9 L1624.3,1540.7 L1626.1,1541.5 L1627.9,1542.3 L1629.8,1543.2 L1631.6,1544.0 L1633.4,1544.8 L1635.2,1545.6 L1637.0,1546.5 L1638.8,1547.3 L1640.7,1548.1 L1642.5,1549.0 L1644.3,1549.8 L1646.1,1550.7 L1648.0,1551.5 L1649.8,1552.3 L1651.6,1553.2 L1653.4,1554.0 L1655.3,1554.8 L1657.1,1555.7 L1658.9,1556.5 L1660.8,1557.3 L1662.6,1558.2 L1664.4,1559.0 L1666.3,1559.8 L1668.1,1560.6 L1669.9,1561.4 L1671.8,1562.2 L1673.6,1563.0 L1675.5,1563.8 L1677.3,1564.6 L1679.2,1565.4 L1681.0,1566.2 L1682.9,1566.9 L1684.7,1567.7 L1686.6,1568.5 L1688.4,1569.2 L1690.3,1569.9 L1692.2,1570.7 L1694.0,1571.4 L1695.9,1572.1 L1697.8,1572.8 L1699.6,1573.5 L1701.5,1574.2 L1703.4,1574.9 L1705.3,1575.5 L1707.2,1576.2 L1709.0,1576.8 L1710.9,1577.4 L1712.8,1578.0 L1714.7,1578.6 L1716.6,1579.2 L1718.5,1579.8 L1720.4,1580.3 L1722.3,1580.9 L1724.2,1581.4 L1726.2,1581.9 L1728.1,1582.4 L1730.0,1582.9 L1731.9,1583.4 L1733.8,1583.8 L1735.8,1584.2 L1737.7,1584.6 L1739.6,1585.0 L1741.6,1585.4 L1743.5,1585.8 L1745.5,1586.1 L1747.4,1586.4 L1749.4,1586.8 L1751.3,1587.1 L1753.3,1587.3 L1755.3,1587.6 L1757.2,1587.8 L1759.2,1588.1 L1761.2,1588.3 L1763.1,1588.5 L1765.1,1588.7 L1767.1,1588.9 L1769.1,1589.1 L1771.1,1589.2 L1773.1,1589.4 L1775.0,1589.5 L1777.0,1589.6 L1779.0,1589.7 L1781.0,1589.9 L1783.0,1589.9 L1785.0,1590.0 L1787.0,1590.1 L1789.0,1590.2 L1791.0,1590.2 L1793.0,1590.3 L1795.0,1590.3 L1797.1,1590.4 L1799.1,1590.4 L1801.1,1590.4 L1803.1,1590.4 L1805.1,1590.4 L1807.1,1590.4 L1809.1,1590.4 L1811.1,1590.4 L1813.1,1590.4 L1815.2,1590.4 L1817.2,1590.3 L1819.2,1590.3 L1821.2,1590.3 L1823.2,1590.3 L1825.2,1590.2 L1827.3,1590.2 L1829.3,1590.1 L1831.3,1590.1 L1833.3,1590.1 L1835.3,1590.0 L1837.4,1590.0 L1839.4,1589.9 L1841.4,1589.9 L1843.4,1589.8 L1845.4,1589.8 L1847.4,1589.8 L1849.4,1589.7 L1851.5,1589.7 L1853.5,1589.6 L1855.5,1589.6 L1857.5,1589.6 L1859.5,1589.5 L1861.5,1589.5 L1863.5,1589.5 L1865.5,1589.4 L1867.5,1589.4 L1869.5,1589.3 L1871.6,1589.3 L1873.6,1589.3 L1875.6,1589.2 L1877.6,1589.2 L1879.6,1589.2 L1881.6,1589.2 L1883.6,1589.1 L1885.6,1589.1 L1887.6,1589.1 L1889.6,1589.0 L1891.6,1589.0 L1893.6,1589.0 L1895.6,1589.0 L1897.6,1589.0 L1899.6,1588.9 L1901.6,1588.9 L1903.6,1588.9 L1905.6,1588.9 L1907.6,1588.8 L1909.6,1588.8 L1911.6,1588.8 L1913.6,1588.8 L1915.6,1588.8 L1917.6,1588.8 L1919.6,1588.8 L1921.6,1588.7 L1923.6,1588.7 L1925.6,1588.7 L1927.6,1588.7 L1929.6,1588.7 L1931.6,1588.7 L1933.6,1588.7 L1935.6,1588.7 L1937.6,1588.7 L1939.6,1588.7 L1941.6,1588.7 L1943.6,1588.7 L1945.6,1588.7 L1947.6,1588.7 L1949.6,1588.7 L1951.6,1588.7 L1953.6,1588.7 L1955.5,1588.7 L1957.5,1588.7 L1959.5,1588.7 L1961.5,1588.7 L1963.5,1588.7 L1965.5,1588.7 L1967.5,1588.8 L1969.5,1588.8 L1971.5,1588.8 L1973.5,1588.8 L1975.5,1588.8 L1977.5,1588.8 L1979.5,1588.9 L1981.5,1588.9 L1983.4,1588.9 L1985.4,1588.9 L1987.4,1588.9 L1989.4,1589.0 L1991.4,1589.0 L1993.4,1589.0 L1995.4,1589.1 L1997.4,1589.1 L1999.4,1589.1 L2001.4,1589.1 L2003.4,1589.2 L2005.4,1589.2 L2007.4,1589.3 L2009.3,1589.3 L2011.3,1589.3 L2013.3,1589.4 L2015.3,1589.4 L2017.3,1589.5 L2019.3,1589.5 L2021.3,1589.6 L2023.3,1589.6 L2025.3,1589.7 L2027.3,1589.7 L2029.3,1589.8 L2031.3,1589.8 L2033.3,1589.9 L2035.2,1589.9 L2037.2,1590.0 L2039.2,1590.0 L2041.2,1590.1 L2043.2,1590.2 L2045.2,1590.2 L2047.2,1590.3 L2049.2,1590.4 L2051.2,1590.4 L2053.2,1590.5 L2055.2,1590.6 L2057.2,1590.6 L2059.2,1590.7 L2061.2,1590.8 L2063.2,1590.9 L2065.2,1590.9 L2067.2,1591.0 L2069.2,1591.1 L2071.1,1591.2 L2073.1,1591.3 L2075.1,1591.4 L2077.1,1591.5 L2079.1,1591.5 L2081.1,1591.6 L2083.1,1591.7 L2085.1,1591.8 L2087.1,1591.9 L2089.1,1592.0 L2091.1,1592.1 L2093.1,1592.2 L2095.1,1592.3 L2097.1,1592.4 L2099.1,1592.5 L2101.1,1592.6 L2103.1,1592.7 L2105.1,1592.8 L2107.1,1592.9 L2109.1,1593.1 L2111.1,1593.2 L2113.1,1593.3 L2115.1,1593.4 L2117.1,1593.5 L2119.1,1593.6 L2121.1,1593.7 L2123.1,1593.8 L2125.1,1593.9 L2127.1,1594.0 L2129.1,1594.1 L2131.1,1594.2 L2133.1,1594.3 L2135.1,1594.4 L2137.1,1594.5 L2139.1,1594.7 L2141.1,1594.8 L2143.1,1594.9 L2145.1,1595.0 L2147.1,1595.1 L2149.1,1595.2 L2151.1,1595.2 L2153.1,1595.3 L2155.1,1595.4 L2157.1,1595.5 L2159.1,1595.6 L2161.1,1595.7 L2163.1,1595.8 L2165.1,1595.9 L2167.1,1596.0 L2169.1,1596.0 L2171.1,1596.1 L2173.1,1596.2 L2175.1,1596.3 L2177.1,1596.3 L2179.1,1596.4 L2181.1,1596.5 L2183.1,1596.5 L2185.1,1596.6 L2187.1,1596.6 L2189.1,1596.7 L2191.1,1596.7 L2193.1,1596.8 L2195.0,1596.8 L2197.0,1596.9 L2199.0,1596.9 L2201.0,1596.9 L2203.0,1597.0 L2205.0,1597.0" fill="none" stroke="#ff0000" stroke-width="6.0" stroke-linejoin="round" stroke-linecap="butt"/>
<g font-family="'Liberation Serif', serif" font-weight="bold" font-size="75.5" fill="#000">
<text x="216" y="1635.7" text-anchor="end">0</text>
<text x="216" y="1323.5" text-anchor="end">20</text>
<text x="216" y="1011.2" text-anchor="end">40</text>
<text x="216" y="699.0" text-anchor="end">60</text>
<text x="216" y="386.7" text-anchor="end">80</text>
<text x="216" y="74.5" text-anchor="end">100</text>
<text x="267.0" y="1722" text-anchor="middle">0</text>
<text x="590.0" y="1722" text-anchor="middle">100</text>
<text x="913.0" y="1722" text-anchor="middle">200</text>
<text x="1236.0" y="1722" text-anchor="middle">300</text>
<text x="1559.0" y="1722" text-anchor="middle">400</text>
<text x="1882.0" y="1722" text-anchor="middle">500</text>
<text x="2205.0" y="1722" text-anchor="middle">600</text>
</g>
<text x="1288" y="1840" text-anchor="middle" textLength="612.8" font-family="'Liberation Serif', serif" font-weight="bold" font-size="81">Temperature / °C</text>
<text transform="translate(85,846) rotate(-90)" text-anchor="middle" textLength="549.2" font-family="'Liberation Serif', serif" font-weight="bold" font-size="81">Weight loss / %</text>
<g font-family="'Liberation Serif', serif" font-weight="bold" font-size="60">
<text x="1385" y="412" textLength="235.5" fill="#f00">TPFPU-7</text>
<text x="1330" y="540" textLength="235.5" fill="#00f">TPFPU-4</text>
<text x="795" y="555.5" textLength="236" fill="#000">TPFPU-1</text>
</g>
<line x1="1371.5" y1="404.4" x2="1275.0" y2="457.2" stroke="#000" stroke-width="1.7"/>
<polygon points="1241.5,475.4 1270.3,448.1 1279.7,466.3" fill="#000"/>
<line x1="1314.2" y1="530.5" x2="1257.4" y2="559.5" stroke="#000" stroke-width="1.7"/>
<polygon points="1223.6,575.9 1253.1,550.8 1261.8,568.3" fill="#000"/>
<line x1="1066.4" y1="546.4" x2="1122.2" y2="573.5" stroke="#000" stroke-width="1.7"/>
<polygon points="1157.0,588.8 1127.2,564.5 1117.1,582.5" fill="#000"/>
</svg></body></html>
